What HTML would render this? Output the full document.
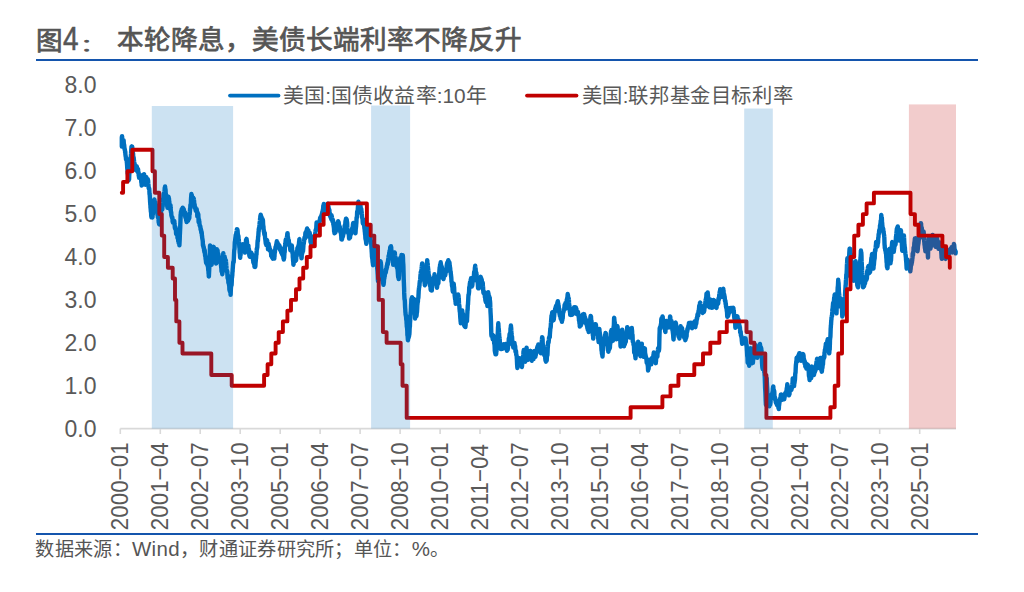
<!DOCTYPE html>
<html lang="zh-CN">
<head>
<meta charset="utf-8">
<title>图4： 本轮降息，美债长端利率不降反升</title>
<style>
html,body{margin:0;padding:0;background:#fff;}
body{width:1024px;height:592px;position:relative;overflow:hidden;font-family:"Liberation Sans",sans-serif;color:#595959;}
.title{position:absolute;left:36px;top:23px;height:34px;line-height:34px;font-size:26.6px;font-weight:500;color:#555;-webkit-text-stroke:0.75px #555;white-space:nowrap;}
.title .n{font-size:30px;font-weight:normal;-webkit-text-stroke:0.5px #555;display:inline-block;transform:scale(0.93,1.1);transform-origin:0 78%;}
.title .c{display:inline-block;transform:translateY(3.2px) scaleY(0.62);transform-origin:0 62%;}
.title .t2{position:absolute;left:80.5px;top:0;}
.rule{position:absolute;left:36px;width:942px;height:2px;background:#1455ad;}
.r1{top:59.4px;}
.r2{top:532.6px;}
.src{position:absolute;left:35.3px;top:537px;height:24px;line-height:24px;font-size:19.2px;letter-spacing:0.32px;color:#555;white-space:nowrap;}
.src .l{font-size:20.5px;}
svg{position:absolute;left:0;top:0;}
svg text{font-family:"Liberation Sans",sans-serif;fill:#595959;}
.yl text{font-size:23px;text-anchor:end;}
.xl text{font-size:22.4px;}
.lg text{font-size:20.8px;}
</style>
</head>
<body>
<div class="title"><span>图</span><span class="n">4</span><span class="c">：</span><span class="t2">本轮降息，美债长端利率不降反升</span></div>
<div class="rule r1"></div>
<svg width="1024" height="592" viewBox="0 0 1024 592">
  <g class="yl">
    <text x="96.5" y="93.4">8.0</text>
    <text x="96.5" y="136.3">7.0</text>
    <text x="96.5" y="179.2">6.0</text>
    <text x="96.5" y="222.1">5.0</text>
    <text x="96.5" y="265.0">4.0</text>
    <text x="96.5" y="307.9">3.0</text>
    <text x="96.5" y="350.8">2.0</text>
    <text x="96.5" y="393.7">1.0</text>
    <text x="96.5" y="436.6">0.0</text>
  </g>
  <path d="M120.3,428.6H956" stroke="#d9d9d9" stroke-width="1.6" fill="none"/>
  <path d="M120.3,428.6v5.5M160.3,428.6v5.5M200.2,428.6v5.5M240.2,428.6v5.5M280.2,428.6v5.5M320.1,428.6v5.5M360.1,428.6v5.5M400.1,428.6v5.5M440.1,428.6v5.5M480.0,428.6v5.5M520.0,428.6v5.5M560.0,428.6v5.5M599.9,428.6v5.5M639.9,428.6v5.5M679.9,428.6v5.5M719.8,428.6v5.5M759.8,428.6v5.5M799.8,428.6v5.5M839.8,428.6v5.5M879.7,428.6v5.5M919.7,428.6v5.5" stroke="#d9d9d9" stroke-width="1.6" fill="none"/>
  <path d="M121.8,146.6 L121.8,145.4 L121.8,145.0 L121.8,144.7 L121.8,145.0 L121.8,144.4 L121.8,142.3 L121.8,141.3 L121.8,139.6 L121.8,138.9 L121.8,138.1 L121.8,137.6 L121.8,139.0 L121.9,137.3 L122.0,136.3 L122.1,136.3 L122.2,138.7 L122.3,140.8 L122.4,141.7 L122.5,142.1 L122.6,141.7 L122.7,141.7 L122.8,141.2 L122.9,142.1 L123.0,141.9 L123.1,141.6 L123.2,142.7 L123.4,141.0 L123.5,140.9 L123.6,140.2 L123.7,141.6 L123.8,143.1 L123.9,144.1 L124.0,144.8 L124.1,144.7 L124.2,145.2 L124.3,146.4 L124.4,148.0 L124.5,149.1 L124.6,148.1 L124.7,149.7 L124.8,149.9 L125.0,150.0 L125.1,152.2 L125.2,152.5 L125.3,151.6 L125.4,154.4 L125.5,155.1 L125.6,155.5 L125.7,156.8 L125.8,156.7 L125.9,157.4 L126.0,159.5 L126.1,159.0 L126.2,158.9 L126.3,158.6 L126.4,158.0 L126.6,158.7 L126.7,159.7 L126.8,162.2 L126.9,162.4 L127.0,164.0 L127.1,165.3 L127.2,167.4 L127.3,168.9 L127.4,169.9 L127.5,168.9 L127.6,171.7 L127.7,173.6 L127.8,173.5 L127.9,172.3 L128.0,172.3 L128.1,175.1 L128.3,178.2 L128.4,177.9 L128.5,178.9 L128.6,180.3 L128.7,179.4 L128.8,178.6 L128.9,179.0 L129.0,179.5 L129.1,179.2 L129.2,176.2 L129.3,174.4 L129.4,172.9 L129.5,171.3 L129.6,172.0 L129.7,169.3 L129.9,167.2 L130.0,165.7 L130.1,166.9 L130.2,166.2 L130.3,163.8 L130.4,164.5 L130.5,163.0 L130.6,160.3 L130.7,160.3 L130.8,157.0 L130.9,155.1 L131.0,154.0 L131.1,152.4 L131.2,150.5 L131.3,149.2 L131.5,146.8 L131.6,146.5 L131.7,147.2 L131.8,146.5 L131.9,147.0 L132.0,148.4 L132.1,147.7 L132.2,146.6 L132.3,147.7 L132.4,149.7 L132.5,150.5 L132.6,151.5 L132.7,152.6 L132.8,151.9 L132.9,154.0 L133.1,153.5 L133.2,155.9 L133.3,157.5 L133.4,157.5 L133.5,157.1 L133.6,157.2 L133.7,157.9 L133.8,158.9 L133.9,159.9 L134.0,160.4 L134.1,161.7 L134.2,162.5 L134.3,163.0 L134.4,164.2 L134.5,164.5 L134.7,165.0 L134.8,164.1 L134.9,165.2 L135.0,166.3 L135.1,167.1 L135.2,167.4 L135.3,166.7 L135.4,167.4 L135.5,167.3 L135.6,165.6 L135.7,168.9 L135.8,170.1 L135.9,169.7 L136.0,169.2 L136.1,168.9 L136.3,169.4 L136.4,168.6 L136.5,168.4 L136.6,169.1 L136.7,166.5 L136.8,166.5 L136.9,167.5 L137.0,167.8 L137.1,168.3 L137.2,168.5 L137.3,171.5 L137.4,171.6 L137.5,170.2 L137.6,171.7 L137.7,171.9 L137.8,171.0 L138.0,170.4 L138.1,169.3 L138.2,171.9 L138.3,172.6 L138.4,173.3 L138.5,173.0 L138.6,172.2 L138.7,175.7 L138.8,174.7 L138.9,176.6 L139.0,176.0 L139.1,177.9 L139.2,177.7 L139.3,176.6 L139.4,177.2 L139.6,177.3 L139.7,176.9 L139.8,177.3 L139.9,178.0 L140.0,176.8 L140.1,176.5 L140.2,177.7 L140.3,175.2 L140.4,177.4 L140.5,177.0 L140.6,178.0 L140.7,178.4 L140.8,178.2 L140.9,178.5 L141.0,178.4 L141.2,180.6 L141.3,182.5 L141.4,181.8 L141.5,183.0 L141.6,184.1 L141.7,185.5 L141.8,183.7 L141.9,182.9 L142.0,181.4 L142.1,182.7 L142.2,182.9 L142.3,184.3 L142.4,183.2 L142.5,180.5 L142.6,180.8 L142.8,178.2 L142.9,176.5 L143.0,176.2 L143.1,177.7 L143.2,175.2 L143.3,174.6 L143.4,175.8 L143.5,175.7 L143.6,175.7 L143.7,174.6 L143.8,176.5 L143.9,175.8 L144.0,174.8 L144.1,174.2 L144.2,175.4 L144.4,177.1 L144.5,176.7 L144.6,177.4 L144.7,178.1 L144.8,177.3 L144.9,178.5 L145.0,181.7 L145.1,182.5 L145.2,184.7 L145.3,183.8 L145.4,183.6 L145.5,184.5 L145.6,184.1 L145.7,182.9 L145.8,182.6 L145.9,181.0 L146.1,181.2 L146.2,180.1 L146.3,178.7 L146.4,177.3 L146.5,178.6 L146.6,178.0 L146.7,180.4 L146.8,181.6 L146.9,183.4 L147.0,181.8 L147.1,182.8 L147.2,182.3 L147.3,182.1 L147.4,181.7 L147.5,181.9 L147.7,181.2 L147.8,179.1 L147.9,179.9 L148.0,180.2 L148.1,180.1 L148.2,181.3 L148.3,183.7 L148.4,185.0 L148.5,184.5 L148.6,187.1 L148.7,188.2 L148.8,187.6 L148.9,187.4 L149.0,188.3 L149.1,188.2 L149.3,189.0 L149.4,191.1 L149.5,193.5 L149.6,194.6 L149.7,194.3 L149.8,196.0 L149.9,197.9 L150.0,199.6 L150.1,202.0 L150.2,202.7 L150.3,204.6 L150.4,204.8 L150.5,208.0 L150.6,208.1 L150.7,209.3 L150.9,212.0 L151.0,211.5 L151.1,212.4 L151.2,215.4 L151.3,216.7 L151.4,216.7 L151.5,217.4 L151.6,216.4 L151.7,215.7 L151.8,215.2 L151.9,215.2 L152.0,214.3 L152.1,214.2 L152.2,214.5 L152.3,217.6 L152.5,217.0 L152.6,214.8 L152.7,214.5 L152.8,214.3 L152.9,211.4 L153.0,212.8 L153.1,211.4 L153.2,208.0 L153.3,208.6 L153.4,207.3 L153.5,204.7 L153.6,204.5 L153.7,203.5 L153.8,202.2 L153.9,202.8 L154.1,202.3 L154.2,201.4 L154.3,199.9 L154.4,199.4 L154.5,200.2 L154.6,201.9 L154.7,202.7 L154.8,202.1 L154.9,202.6 L155.0,204.0 L155.1,205.2 L155.2,202.6 L155.3,202.1 L155.4,202.3 L155.5,205.9 L155.6,205.7 L155.8,205.6 L155.9,204.4 L156.0,204.7 L156.1,205.6 L156.2,205.8 L156.3,208.7 L156.4,208.0 L156.5,208.2 L156.6,209.6 L156.7,208.7 L156.8,207.6 L156.9,210.2 L157.0,211.7 L157.1,212.0 L157.2,212.5 L157.4,213.6 L157.5,215.2 L157.6,213.4 L157.7,213.1 L157.8,215.3 L157.9,217.4 L158.0,216.0 L158.1,215.7 L158.2,214.6 L158.3,214.9 L158.4,217.0 L158.5,217.7 L158.6,220.9 L158.7,222.2 L158.8,222.7 L159.0,222.5 L159.1,223.8 L159.2,224.3 L159.3,224.3 L159.4,224.4 L159.5,223.7 L159.6,222.7 L159.7,222.3 L159.8,220.6 L159.9,219.9 L160.0,220.0 L160.1,219.8 L160.2,218.8 L160.3,218.0 L160.4,216.8 L160.6,215.9 L160.7,214.7 L160.8,214.0 L160.9,214.4 L161.0,212.8 L161.1,210.7 L161.2,209.4 L161.3,208.8 L161.4,207.5 L161.5,207.9 L161.6,209.4 L161.7,208.5 L161.8,208.7 L161.9,207.0 L162.0,207.5 L162.2,209.5 L162.3,209.4 L162.4,206.4 L162.5,205.9 L162.6,206.5 L162.7,206.2 L162.8,204.6 L162.9,203.1 L163.0,202.2 L163.1,199.9 L163.2,198.8 L163.3,198.5 L163.4,197.5 L163.5,195.5 L163.6,194.5 L163.8,193.5 L163.9,194.8 L164.0,194.9 L164.1,193.9 L164.2,194.1 L164.3,192.7 L164.4,192.0 L164.5,191.0 L164.6,191.2 L164.7,188.4 L164.8,187.4 L164.9,188.0 L165.0,188.1 L165.1,186.5 L165.2,188.5 L165.3,188.9 L165.5,189.3 L165.6,190.7 L165.7,193.3 L165.8,194.2 L165.9,194.8 L166.0,194.6 L166.1,194.9 L166.2,196.1 L166.3,196.3 L166.4,196.9 L166.5,197.9 L166.6,199.0 L166.7,200.3 L166.8,200.5 L166.9,202.7 L167.1,204.2 L167.2,204.8 L167.3,207.0 L167.4,206.6 L167.5,207.8 L167.6,207.3 L167.7,205.4 L167.8,203.7 L167.9,202.8 L168.0,202.2 L168.1,202.8 L168.2,199.7 L168.3,198.4 L168.4,196.6 L168.5,197.1 L168.7,197.1 L168.8,199.7 L168.9,199.1 L169.0,198.6 L169.1,201.2 L169.2,201.6 L169.3,201.2 L169.4,203.6 L169.5,205.8 L169.6,206.9 L169.7,207.4 L169.8,208.8 L169.9,208.5 L170.0,208.1 L170.1,207.5 L170.3,206.9 L170.4,205.7 L170.5,205.2 L170.6,207.5 L170.7,208.6 L170.8,210.3 L170.9,211.8 L171.0,212.0 L171.1,212.3 L171.2,212.0 L171.3,214.2 L171.4,215.7 L171.5,215.7 L171.6,216.1 L171.7,216.6 L171.9,216.8 L172.0,217.8 L172.1,217.2 L172.2,217.2 L172.3,217.3 L172.4,218.1 L172.5,218.3 L172.6,221.3 L172.7,221.9 L172.8,221.4 L172.9,222.6 L173.0,221.8 L173.1,221.3 L173.2,222.5 L173.3,222.4 L173.4,222.4 L173.6,221.6 L173.7,220.8 L173.8,220.8 L173.9,221.8 L174.0,221.8 L174.1,221.9 L174.2,221.1 L174.3,220.9 L174.4,222.0 L174.5,224.0 L174.6,224.8 L174.7,225.9 L174.8,227.4 L174.9,227.7 L175.0,228.4 L175.2,228.5 L175.3,228.3 L175.4,229.2 L175.5,227.1 L175.6,228.4 L175.7,228.0 L175.8,228.8 L175.9,228.6 L176.0,232.2 L176.1,233.7 L176.2,233.9 L176.3,233.7 L176.4,231.7 L176.5,232.2 L176.6,231.7 L176.8,231.9 L176.9,231.9 L177.0,232.5 L177.1,233.8 L177.2,234.3 L177.3,236.4 L177.4,235.9 L177.5,237.8 L177.6,238.2 L177.7,236.6 L177.8,237.8 L177.9,238.7 L178.0,238.2 L178.1,239.2 L178.2,240.9 L178.4,241.3 L178.5,241.4 L178.6,241.4 L178.7,243.1 L178.8,241.8 L178.9,240.9 L179.0,242.1 L179.1,242.8 L179.2,244.2 L179.3,243.6 L179.4,245.3 L179.5,243.1 L179.6,241.3 L179.7,239.6 L179.8,236.2 L180.0,232.2 L180.1,229.9 L180.2,228.2 L180.3,224.8 L180.4,222.4 L180.5,219.6 L180.6,215.5 L180.7,214.1 L180.8,214.6 L180.9,212.0 L181.0,212.1 L181.1,211.2 L181.2,212.0 L181.3,211.8 L181.4,213.4 L181.6,210.9 L181.7,209.1 L181.8,210.3 L181.9,211.5 L182.0,212.6 L182.1,210.3 L182.2,210.1 L182.3,209.4 L182.4,209.0 L182.5,208.3 L182.6,208.7 L182.7,207.7 L182.8,208.5 L182.9,208.7 L183.0,208.4 L183.1,208.2 L183.3,208.8 L183.4,210.1 L183.5,210.1 L183.6,210.9 L183.7,209.5 L183.8,209.2 L183.9,210.0 L184.0,211.1 L184.1,212.4 L184.2,213.8 L184.3,214.5 L184.4,214.4 L184.5,214.2 L184.6,214.0 L184.7,212.4 L184.9,214.0 L185.0,214.7 L185.1,212.4 L185.2,215.6 L185.3,216.9 L185.4,217.3 L185.5,217.7 L185.6,217.4 L185.7,217.9 L185.8,217.7 L185.9,217.8 L186.0,217.2 L186.1,219.5 L186.2,220.4 L186.3,220.2 L186.5,221.2 L186.6,222.0 L186.7,220.9 L186.8,221.4 L186.9,220.4 L187.0,219.5 L187.1,219.2 L187.2,218.8 L187.3,219.0 L187.4,220.7 L187.5,220.6 L187.6,220.0 L187.7,220.6 L187.8,220.6 L187.9,219.8 L188.1,220.8 L188.2,220.0 L188.3,218.1 L188.4,219.1 L188.5,219.2 L188.6,219.5 L188.7,218.1 L188.8,218.2 L188.9,217.6 L189.0,218.9 L189.1,218.1 L189.2,217.2 L189.3,218.2 L189.4,215.4 L189.5,213.4 L189.7,214.4 L189.8,212.4 L189.9,211.5 L190.0,209.9 L190.1,208.4 L190.2,209.1 L190.3,208.0 L190.4,205.1 L190.5,204.8 L190.6,204.7 L190.7,204.9 L190.8,204.7 L190.9,202.7 L191.0,199.4 L191.1,197.7 L191.2,196.4 L191.4,194.0 L191.5,194.9 L191.6,195.9 L191.7,195.3 L191.8,194.8 L191.9,196.1 L192.0,197.3 L192.1,196.7 L192.2,196.3 L192.3,197.9 L192.4,198.2 L192.5,198.9 L192.6,198.5 L192.7,198.8 L192.8,199.1 L193.0,199.6 L193.1,198.7 L193.2,197.6 L193.3,198.6 L193.4,198.2 L193.5,199.6 L193.6,200.0 L193.7,199.6 L193.8,198.6 L193.9,199.8 L194.0,200.5 L194.1,200.9 L194.2,203.1 L194.3,203.4 L194.4,204.4 L194.6,204.2 L194.7,205.7 L194.8,208.0 L194.9,207.7 L195.0,207.4 L195.1,208.0 L195.2,207.0 L195.3,207.5 L195.4,208.3 L195.5,207.9 L195.6,209.8 L195.7,210.5 L195.8,210.6 L195.9,209.7 L196.0,210.2 L196.2,210.1 L196.3,211.2 L196.4,211.1 L196.5,209.7 L196.6,211.1 L196.7,209.1 L196.8,210.6 L196.9,211.3 L197.0,211.8 L197.1,211.4 L197.2,213.5 L197.3,216.3 L197.4,215.9 L197.5,215.3 L197.6,215.1 L197.8,212.9 L197.9,213.7 L198.0,214.4 L198.1,214.3 L198.2,214.9 L198.3,214.1 L198.4,216.6 L198.5,217.8 L198.6,222.3 L198.7,221.5 L198.8,222.2 L198.9,221.4 L199.0,219.5 L199.1,220.4 L199.2,221.4 L199.4,222.6 L199.5,224.1 L199.6,225.3 L199.7,224.9 L199.8,225.4 L199.9,225.8 L200.0,226.5 L200.1,226.0 L200.2,226.1 L200.3,227.0 L200.4,226.9 L200.5,227.8 L200.6,229.7 L200.7,228.6 L200.8,228.9 L200.9,230.6 L201.1,230.0 L201.2,230.4 L201.3,232.9 L201.4,231.6 L201.5,232.0 L201.6,231.8 L201.7,232.4 L201.8,233.4 L201.9,235.9 L202.0,235.6 L202.1,236.5 L202.2,237.8 L202.3,238.2 L202.4,239.1 L202.5,239.3 L202.7,240.7 L202.8,241.7 L202.9,244.8 L203.0,245.8 L203.1,245.6 L203.2,244.8 L203.3,246.1 L203.4,247.1 L203.5,246.2 L203.6,247.7 L203.7,247.9 L203.8,247.1 L203.9,248.4 L204.0,248.4 L204.1,250.5 L204.3,251.1 L204.4,251.9 L204.5,252.5 L204.6,252.0 L204.7,250.2 L204.8,252.1 L204.9,253.7 L205.0,253.9 L205.1,255.8 L205.2,255.9 L205.3,255.9 L205.4,256.9 L205.5,256.9 L205.6,259.2 L205.7,258.8 L205.9,260.9 L206.0,261.9 L206.1,262.6 L206.2,263.1 L206.3,262.3 L206.4,262.5 L206.5,263.2 L206.6,262.9 L206.7,261.6 L206.8,262.3 L206.9,262.6 L207.0,262.0 L207.1,262.7 L207.2,265.0 L207.3,263.0 L207.5,261.6 L207.6,265.1 L207.7,266.0 L207.8,266.4 L207.9,266.2 L208.0,266.4 L208.1,267.7 L208.2,269.8 L208.3,270.3 L208.4,269.8 L208.5,271.8 L208.6,273.5 L208.7,273.9 L208.8,276.4 L208.9,276.5 L209.0,273.8 L209.2,270.0 L209.3,267.7 L209.4,265.5 L209.5,262.6 L209.6,259.4 L209.7,256.9 L209.8,253.6 L209.9,249.6 L210.0,246.1 L210.1,245.4 L210.2,247.7 L210.3,249.4 L210.4,253.2 L210.5,251.8 L210.6,253.7 L210.8,254.7 L210.9,255.1 L211.0,257.6 L211.1,258.0 L211.2,259.0 L211.3,261.9 L211.4,262.2 L211.5,261.8 L211.6,264.8 L211.7,264.2 L211.8,262.9 L211.9,261.4 L212.0,260.0 L212.1,257.8 L212.2,257.4 L212.4,255.8 L212.5,255.7 L212.6,254.2 L212.7,254.4 L212.8,253.8 L212.9,251.1 L213.0,250.0 L213.1,249.7 L213.2,250.3 L213.3,250.3 L213.4,249.1 L213.5,247.1 L213.6,246.9 L213.7,247.3 L213.8,248.3 L214.0,247.7 L214.1,249.3 L214.2,250.8 L214.3,250.7 L214.4,251.6 L214.5,252.9 L214.6,254.4 L214.7,255.4 L214.8,255.4 L214.9,255.8 L215.0,258.0 L215.1,258.1 L215.2,258.7 L215.3,260.5 L215.4,260.2 L215.6,261.2 L215.7,262.3 L215.8,262.1 L215.9,261.4 L216.0,263.2 L216.1,263.5 L216.2,263.5 L216.3,259.3 L216.4,258.6 L216.5,255.9 L216.6,255.3 L216.7,253.0 L216.8,249.3 L216.9,251.1 L217.0,250.5 L217.2,250.3 L217.3,250.9 L217.4,252.1 L217.5,250.1 L217.6,250.7 L217.7,253.1 L217.8,252.5 L217.9,254.9 L218.0,253.8 L218.1,254.8 L218.2,254.9 L218.3,253.9 L218.4,254.4 L218.5,256.4 L218.6,258.5 L218.7,257.2 L218.9,256.7 L219.0,258.0 L219.1,257.3 L219.2,257.2 L219.3,257.0 L219.4,260.0 L219.5,260.5 L219.6,259.7 L219.7,259.2 L219.8,258.8 L219.9,262.0 L220.0,262.0 L220.1,261.7 L220.2,259.5 L220.3,261.5 L220.5,262.7 L220.6,263.3 L220.7,263.1 L220.8,264.4 L220.9,263.9 L221.0,265.6 L221.1,266.1 L221.2,267.4 L221.3,267.9 L221.4,269.3 L221.5,271.5 L221.6,270.6 L221.7,270.8 L221.8,272.0 L221.9,272.3 L222.1,271.8 L222.2,273.5 L222.3,274.2 L222.4,273.4 L222.5,270.5 L222.6,268.6 L222.7,268.5 L222.8,264.5 L222.9,261.7 L223.0,259.3 L223.1,257.3 L223.2,254.6 L223.3,253.2 L223.4,254.5 L223.5,255.4 L223.7,256.1 L223.8,256.7 L223.9,257.8 L224.0,256.9 L224.1,258.3 L224.2,257.4 L224.3,258.5 L224.4,257.9 L224.5,256.5 L224.6,256.6 L224.7,257.7 L224.8,257.8 L224.9,257.9 L225.0,260.0 L225.1,260.7 L225.3,260.4 L225.4,260.9 L225.5,260.9 L225.6,260.6 L225.7,260.5 L225.8,260.3 L225.9,260.7 L226.0,262.0 L226.1,263.0 L226.2,264.2 L226.3,265.4 L226.4,266.3 L226.5,268.9 L226.6,269.8 L226.7,270.2 L226.9,271.8 L227.0,272.2 L227.1,272.1 L227.2,272.8 L227.3,271.2 L227.4,274.9 L227.5,275.6 L227.6,278.1 L227.7,277.3 L227.8,274.9 L227.9,278.6 L228.0,279.0 L228.1,279.0 L228.2,279.9 L228.3,279.9 L228.4,283.0 L228.6,282.4 L228.7,282.5 L228.8,283.0 L228.9,284.3 L229.0,284.1 L229.1,285.3 L229.2,285.6 L229.3,286.8 L229.4,289.8 L229.5,290.0 L229.6,290.0 L229.7,289.6 L229.8,291.1 L229.9,291.5 L230.0,291.3 L230.2,291.7 L230.3,291.0 L230.4,289.8 L230.5,291.9 L230.6,294.9 L230.7,293.1 L230.8,290.3 L230.9,288.4 L231.0,286.7 L231.1,286.6 L231.2,286.5 L231.3,284.5 L231.4,284.5 L231.5,285.3 L231.6,284.9 L231.8,280.6 L231.9,277.5 L232.0,277.4 L232.1,277.2 L232.2,275.8 L232.3,275.5 L232.4,272.8 L232.5,271.9 L232.6,271.9 L232.7,269.0 L232.8,268.3 L232.9,266.6 L233.0,265.2 L233.1,264.1 L233.2,262.3 L233.4,261.6 L233.5,262.0 L233.6,262.5 L233.7,261.7 L233.8,260.2 L233.9,258.0 L234.0,255.7 L234.1,253.1 L234.2,251.1 L234.3,250.2 L234.4,249.1 L234.5,249.4 L234.6,247.4 L234.7,244.7 L234.8,242.2 L235.0,241.3 L235.1,240.9 L235.2,239.3 L235.3,238.9 L235.4,237.7 L235.5,236.9 L235.6,236.5 L235.7,234.9 L235.8,235.6 L235.9,235.9 L236.0,236.5 L236.1,237.0 L236.2,234.8 L236.3,232.8 L236.4,232.8 L236.5,232.2 L236.7,231.0 L236.8,230.3 L236.9,229.3 L237.0,231.0 L237.1,231.7 L237.2,231.1 L237.3,229.5 L237.4,229.5 L237.5,230.5 L237.6,230.7 L237.7,232.4 L237.8,234.5 L237.9,233.8 L238.0,235.8 L238.1,236.9 L238.3,235.7 L238.4,235.9 L238.5,237.2 L238.6,239.5 L238.7,240.6 L238.8,240.3 L238.9,241.3 L239.0,241.7 L239.1,243.4 L239.2,244.6 L239.3,246.6 L239.4,247.8 L239.5,248.0 L239.6,251.3 L239.7,252.8 L239.9,253.9 L240.0,255.9 L240.1,257.4 L240.2,257.8 L240.3,255.6 L240.4,254.6 L240.5,253.8 L240.6,255.1 L240.7,252.3 L240.8,251.8 L240.9,251.4 L241.0,252.0 L241.1,251.3 L241.2,251.6 L241.3,250.6 L241.5,249.1 L241.6,248.2 L241.7,247.0 L241.8,247.1 L241.9,244.6 L242.0,244.6 L242.1,245.7 L242.2,244.7 L242.3,244.4 L242.4,245.3 L242.5,245.6 L242.6,245.1 L242.7,246.4 L242.8,246.4 L242.9,244.8 L243.1,244.3 L243.2,244.8 L243.3,245.0 L243.4,245.5 L243.5,245.9 L243.6,245.4 L243.7,246.0 L243.8,249.0 L243.9,249.0 L244.0,250.0 L244.1,249.3 L244.2,250.1 L244.3,250.0 L244.4,247.8 L244.5,249.4 L244.7,249.9 L244.8,250.5 L244.9,252.0 L245.0,252.6 L245.1,250.5 L245.2,249.8 L245.3,250.4 L245.4,250.4 L245.5,248.0 L245.6,247.4 L245.7,246.3 L245.8,244.6 L245.9,242.2 L246.0,240.3 L246.1,239.7 L246.2,240.3 L246.4,240.7 L246.5,239.4 L246.6,238.8 L246.7,240.2 L246.8,240.6 L246.9,241.2 L247.0,242.0 L247.1,243.3 L247.2,245.4 L247.3,246.4 L247.4,248.3 L247.5,247.0 L247.6,246.7 L247.7,248.4 L247.8,247.1 L248.0,246.6 L248.1,249.3 L248.2,247.6 L248.3,247.3 L248.4,245.7 L248.5,248.0 L248.6,248.2 L248.7,248.4 L248.8,249.0 L248.9,249.5 L249.0,249.1 L249.1,251.5 L249.2,253.3 L249.3,255.1 L249.4,255.7 L249.6,256.4 L249.7,255.9 L249.8,255.7 L249.9,255.9 L250.0,256.4 L250.1,256.7 L250.2,255.3 L250.3,254.4 L250.4,254.4 L250.5,254.8 L250.6,253.2 L250.7,254.1 L250.8,253.5 L250.9,252.5 L251.0,253.1 L251.2,252.5 L251.3,254.1 L251.4,253.1 L251.5,253.2 L251.6,255.2 L251.7,254.4 L251.8,255.4 L251.9,254.0 L252.0,254.8 L252.1,255.0 L252.2,254.7 L252.3,255.1 L252.4,254.8 L252.5,255.4 L252.6,255.3 L252.8,256.0 L252.9,256.5 L253.0,260.2 L253.1,259.3 L253.2,259.8 L253.3,262.2 L253.4,262.4 L253.5,262.3 L253.6,261.6 L253.7,263.5 L253.8,262.4 L253.9,263.4 L254.0,261.6 L254.1,262.9 L254.2,263.2 L254.3,264.8 L254.5,266.9 L254.6,266.5 L254.7,266.5 L254.8,265.9 L254.9,265.7 L255.0,265.8 L255.1,267.0 L255.2,266.7 L255.3,266.3 L255.4,265.9 L255.5,263.9 L255.6,262.4 L255.7,261.6 L255.8,260.2 L255.9,259.3 L256.1,257.9 L256.2,256.0 L256.3,254.0 L256.4,253.9 L256.5,254.6 L256.6,251.8 L256.7,250.7 L256.8,248.6 L256.9,249.5 L257.0,248.8 L257.1,247.6 L257.2,248.1 L257.3,247.3 L257.4,245.2 L257.5,242.8 L257.7,240.2 L257.8,240.4 L257.9,241.0 L258.0,239.3 L258.1,237.2 L258.2,236.1 L258.3,236.6 L258.4,234.7 L258.5,232.9 L258.6,231.4 L258.7,231.2 L258.8,230.0 L258.9,228.2 L259.0,228.1 L259.1,229.2 L259.3,227.6 L259.4,226.0 L259.5,224.9 L259.6,222.9 L259.7,222.7 L259.8,221.8 L259.9,221.1 L260.0,220.2 L260.1,218.5 L260.2,219.0 L260.3,217.0 L260.4,215.9 L260.5,215.7 L260.6,215.8 L260.7,214.6 L260.9,215.7 L261.0,216.5 L261.1,218.2 L261.2,218.0 L261.3,216.8 L261.4,216.8 L261.5,216.8 L261.6,217.5 L261.7,217.7 L261.8,219.5 L261.9,218.5 L262.0,219.1 L262.1,220.4 L262.2,221.1 L262.3,221.7 L262.5,220.5 L262.6,219.2 L262.7,220.7 L262.8,220.2 L262.9,220.0 L263.0,221.5 L263.1,223.8 L263.2,225.1 L263.3,226.1 L263.4,226.1 L263.5,226.9 L263.6,229.5 L263.7,229.4 L263.8,231.3 L263.9,230.4 L264.0,232.0 L264.2,232.9 L264.3,234.0 L264.4,234.6 L264.5,233.3 L264.6,232.8 L264.7,232.8 L264.8,233.1 L264.9,235.6 L265.0,236.6 L265.1,237.7 L265.2,239.1 L265.3,238.8 L265.4,240.0 L265.5,240.7 L265.6,241.8 L265.8,243.8 L265.9,242.7 L266.0,241.0 L266.1,240.9 L266.2,242.1 L266.3,245.1 L266.4,244.5 L266.5,242.9 L266.6,242.7 L266.7,241.8 L266.8,240.6 L266.9,240.0 L267.0,241.2 L267.1,240.7 L267.2,240.6 L267.4,243.1 L267.5,244.0 L267.6,245.9 L267.7,246.2 L267.8,245.7 L267.9,247.1 L268.0,249.4 L268.1,247.8 L268.2,247.5 L268.3,246.2 L268.4,248.1 L268.5,247.2 L268.6,245.4 L268.7,244.0 L268.8,245.3 L269.0,245.9 L269.1,246.9 L269.2,246.6 L269.3,246.4 L269.4,247.2 L269.5,249.6 L269.6,249.3 L269.7,250.5 L269.8,250.3 L269.9,250.6 L270.0,249.5 L270.1,249.1 L270.2,250.6 L270.3,251.0 L270.4,249.9 L270.6,251.4 L270.7,251.8 L270.8,251.3 L270.9,250.9 L271.0,251.4 L271.1,253.9 L271.2,255.9 L271.3,256.1 L271.4,256.0 L271.5,253.5 L271.6,255.0 L271.7,254.1 L271.8,253.8 L271.9,256.2 L272.0,257.2 L272.2,257.1 L272.3,257.7 L272.4,257.8 L272.5,257.3 L272.6,258.2 L272.7,257.6 L272.8,258.2 L272.9,258.7 L273.0,258.0 L273.1,258.5 L273.2,258.1 L273.3,256.3 L273.4,256.5 L273.5,256.9 L273.6,256.3 L273.7,256.9 L273.9,255.9 L274.0,257.6 L274.1,257.0 L274.2,257.7 L274.3,258.6 L274.4,256.1 L274.5,256.6 L274.6,254.2 L274.7,253.3 L274.8,251.5 L274.9,252.6 L275.0,251.0 L275.1,249.4 L275.2,249.6 L275.3,249.7 L275.5,246.9 L275.6,246.9 L275.7,247.5 L275.8,248.1 L275.9,247.4 L276.0,246.8 L276.1,246.4 L276.2,244.5 L276.3,245.0 L276.4,244.5 L276.5,243.0 L276.6,244.3 L276.7,243.2 L276.8,241.3 L276.9,243.1 L277.1,244.2 L277.2,245.1 L277.3,246.6 L277.4,245.3 L277.5,246.7 L277.6,245.2 L277.7,242.9 L277.8,244.2 L277.9,244.1 L278.0,246.0 L278.1,244.8 L278.2,245.4 L278.3,245.4 L278.4,245.1 L278.5,244.4 L278.7,244.8 L278.8,244.7 L278.9,245.3 L279.0,245.2 L279.1,246.4 L279.2,246.2 L279.3,248.2 L279.4,248.3 L279.5,245.9 L279.6,245.8 L279.7,247.3 L279.8,246.9 L279.9,247.9 L280.0,249.5 L280.1,249.9 L280.3,248.7 L280.4,248.1 L280.5,248.2 L280.6,249.1 L280.7,250.1 L280.8,248.4 L280.9,248.1 L281.0,249.2 L281.1,251.4 L281.2,252.5 L281.3,249.4 L281.4,250.6 L281.5,250.8 L281.6,250.7 L281.7,251.1 L281.8,251.6 L282.0,253.3 L282.1,254.4 L282.2,252.5 L282.3,253.6 L282.4,252.8 L282.5,255.0 L282.6,255.3 L282.7,255.1 L282.8,254.2 L282.9,255.8 L283.0,255.4 L283.1,255.3 L283.2,256.5 L283.3,256.3 L283.4,257.7 L283.6,258.7 L283.7,257.7 L283.8,259.6 L283.9,258.3 L284.0,258.1 L284.1,258.3 L284.2,257.2 L284.3,254.8 L284.4,254.0 L284.5,251.4 L284.6,251.8 L284.7,252.1 L284.8,249.1 L284.9,247.8 L285.0,245.9 L285.2,246.2 L285.3,244.5 L285.4,243.6 L285.5,242.2 L285.6,241.7 L285.7,239.8 L285.8,240.1 L285.9,240.6 L286.0,241.4 L286.1,239.2 L286.2,239.2 L286.3,239.4 L286.4,239.4 L286.5,238.7 L286.6,238.9 L286.8,237.9 L286.9,237.3 L287.0,236.6 L287.1,236.3 L287.2,234.9 L287.3,234.1 L287.4,233.3 L287.5,233.3 L287.6,233.3 L287.7,236.1 L287.8,236.8 L287.9,237.8 L288.0,237.0 L288.1,239.0 L288.2,239.9 L288.4,240.3 L288.5,240.8 L288.6,239.9 L288.7,240.7 L288.8,240.1 L288.9,242.2 L289.0,244.5 L289.1,243.3 L289.2,243.2 L289.3,243.2 L289.4,243.7 L289.5,243.9 L289.6,245.9 L289.7,245.4 L289.8,246.7 L290.0,245.8 L290.1,246.1 L290.2,248.6 L290.3,250.0 L290.4,248.6 L290.5,248.9 L290.6,249.4 L290.7,249.2 L290.8,249.8 L290.9,250.5 L291.0,250.4 L291.1,250.3 L291.2,248.8 L291.3,249.2 L291.4,247.6 L291.5,246.3 L291.7,245.4 L291.8,245.4 L291.9,246.5 L292.0,247.4 L292.1,248.5 L292.2,250.5 L292.3,251.6 L292.4,253.2 L292.5,252.2 L292.6,252.7 L292.7,254.2 L292.8,257.2 L292.9,257.8 L293.0,258.8 L293.1,260.5 L293.3,262.1 L293.4,264.7 L293.5,264.0 L293.6,264.1 L293.7,261.0 L293.8,261.1 L293.9,261.3 L294.0,259.7 L294.1,259.8 L294.2,259.9 L294.3,260.5 L294.4,261.3 L294.5,259.7 L294.6,258.9 L294.7,257.4 L294.9,258.4 L295.0,258.8 L295.1,260.2 L295.2,259.3 L295.3,261.1 L295.4,260.5 L295.5,259.5 L295.6,258.3 L295.7,259.8 L295.8,258.6 L295.9,259.1 L296.0,259.4 L296.1,260.1 L296.2,258.0 L296.3,255.6 L296.5,255.8 L296.6,256.1 L296.7,255.7 L296.8,252.3 L296.9,250.9 L297.0,251.2 L297.1,252.8 L297.2,252.7 L297.3,250.6 L297.4,248.0 L297.5,247.9 L297.6,248.2 L297.7,248.2 L297.8,249.5 L297.9,247.7 L298.1,248.3 L298.2,246.3 L298.3,247.6 L298.4,248.1 L298.5,246.8 L298.6,246.7 L298.7,245.0 L298.8,244.2 L298.9,244.7 L299.0,243.2 L299.1,241.6 L299.2,243.1 L299.3,240.3 L299.4,239.3 L299.5,239.2 L299.6,242.3 L299.8,243.8 L299.9,244.8 L300.0,244.2 L300.1,246.6 L300.2,248.1 L300.3,250.7 L300.4,251.2 L300.5,251.0 L300.6,253.2 L300.7,254.0 L300.8,253.7 L300.9,252.4 L301.0,252.4 L301.1,253.6 L301.2,255.6 L301.4,257.2 L301.5,258.4 L301.6,257.8 L301.7,257.0 L301.8,254.3 L301.9,253.5 L302.0,254.2 L302.1,251.9 L302.2,250.4 L302.3,250.1 L302.4,250.6 L302.5,252.1 L302.6,252.4 L302.7,250.5 L302.8,250.6 L303.0,251.2 L303.1,250.0 L303.2,248.8 L303.3,247.4 L303.4,246.0 L303.5,243.9 L303.6,244.5 L303.7,243.0 L303.8,243.7 L303.9,242.4 L304.0,241.8 L304.1,241.1 L304.2,239.8 L304.3,239.6 L304.4,238.2 L304.6,237.2 L304.7,237.1 L304.8,237.7 L304.9,238.3 L305.0,238.5 L305.1,238.2 L305.2,237.7 L305.3,234.0 L305.4,233.3 L305.5,232.6 L305.6,233.6 L305.7,234.2 L305.8,234.2 L305.9,233.6 L306.0,234.3 L306.2,232.0 L306.3,232.4 L306.4,230.8 L306.5,233.1 L306.6,232.4 L306.7,231.5 L306.8,230.7 L306.9,229.6 L307.0,228.9 L307.1,228.5 L307.2,230.9 L307.3,231.7 L307.4,234.2 L307.5,233.1 L307.6,232.6 L307.8,232.8 L307.9,233.7 L308.0,234.2 L308.1,232.0 L308.2,230.4 L308.3,231.0 L308.4,230.1 L308.5,232.5 L308.6,234.9 L308.7,235.5 L308.8,236.4 L308.9,236.8 L309.0,236.5 L309.1,233.2 L309.2,234.4 L309.3,234.7 L309.5,234.8 L309.6,235.1 L309.7,234.4 L309.8,233.0 L309.9,235.0 L310.0,235.3 L310.1,236.0 L310.2,236.0 L310.3,238.0 L310.4,240.0 L310.5,242.2 L310.6,241.2 L310.7,240.6 L310.8,240.4 L310.9,242.8 L311.1,242.7 L311.2,243.1 L311.3,244.2 L311.4,244.6 L311.5,243.2 L311.6,242.2 L311.7,242.1 L311.8,241.4 L311.9,242.1 L312.0,242.0 L312.1,241.9 L312.2,241.3 L312.3,241.4 L312.4,241.7 L312.5,241.9 L312.7,242.7 L312.8,240.3 L312.9,240.1 L313.0,240.1 L313.1,238.1 L313.2,237.4 L313.3,240.0 L313.4,239.8 L313.5,239.5 L313.6,237.8 L313.7,236.7 L313.8,236.2 L313.9,237.9 L314.0,238.8 L314.1,238.3 L314.3,237.6 L314.4,238.5 L314.5,238.5 L314.6,238.5 L314.7,237.9 L314.8,237.0 L314.9,236.8 L315.0,237.6 L315.1,235.5 L315.2,233.4 L315.3,233.3 L315.4,231.9 L315.5,231.3 L315.6,230.5 L315.7,229.9 L315.9,230.7 L316.0,229.8 L316.1,228.5 L316.2,229.6 L316.3,227.5 L316.4,225.4 L316.5,224.0 L316.6,222.5 L316.7,222.6 L316.8,223.8 L316.9,225.0 L317.0,226.2 L317.1,226.2 L317.2,226.3 L317.3,225.6 L317.4,227.8 L317.6,225.0 L317.7,222.6 L317.8,223.0 L317.9,222.6 L318.0,222.4 L318.1,222.4 L318.2,222.9 L318.3,223.1 L318.4,224.1 L318.5,223.7 L318.6,223.6 L318.7,223.1 L318.8,223.9 L318.9,223.5 L319.0,223.2 L319.2,222.2 L319.3,223.2 L319.4,222.4 L319.5,221.0 L319.6,220.3 L319.7,220.6 L319.8,221.0 L319.9,221.0 L320.0,219.9 L320.1,217.9 L320.2,218.0 L320.3,218.5 L320.4,217.7 L320.5,217.2 L320.6,217.9 L320.8,218.2 L320.9,217.8 L321.0,216.4 L321.1,217.3 L321.2,217.7 L321.3,216.4 L321.4,217.0 L321.5,216.1 L321.6,214.9 L321.7,214.4 L321.8,214.8 L321.9,214.2 L322.0,213.9 L322.1,212.9 L322.2,213.2 L322.4,211.4 L322.5,212.7 L322.6,212.2 L322.7,211.5 L322.8,209.8 L322.9,210.0 L323.0,208.9 L323.1,209.1 L323.2,207.8 L323.3,205.6 L323.4,206.0 L323.5,205.3 L323.6,206.2 L323.7,204.8 L323.8,203.9 L324.0,204.7 L324.1,206.8 L324.2,207.0 L324.3,206.4 L324.4,206.0 L324.5,206.1 L324.6,209.1 L324.7,210.4 L324.8,209.4 L324.9,211.5 L325.0,210.8 L325.1,209.4 L325.2,209.6 L325.3,209.4 L325.4,210.9 L325.6,212.6 L325.7,212.4 L325.8,212.3 L325.9,211.9 L326.0,210.8 L326.1,210.6 L326.2,210.1 L326.3,209.2 L326.4,209.0 L326.5,206.7 L326.6,206.1 L326.7,206.0 L326.8,206.1 L326.9,206.6 L327.0,204.8 L327.1,204.6 L327.3,205.5 L327.4,205.7 L327.5,205.4 L327.6,205.3 L327.7,203.6 L327.8,204.4 L327.9,203.7 L328.0,204.0 L328.1,205.8 L328.2,206.0 L328.3,206.5 L328.4,206.3 L328.5,207.2 L328.6,207.3 L328.7,209.5 L328.9,210.8 L329.0,210.0 L329.1,209.1 L329.2,209.6 L329.3,210.7 L329.4,209.9 L329.5,212.7 L329.6,213.8 L329.7,213.2 L329.8,212.8 L329.9,214.1 L330.0,216.2 L330.1,214.4 L330.2,214.3 L330.3,215.5 L330.5,215.4 L330.6,214.5 L330.7,217.6 L330.8,216.2 L330.9,215.5 L331.0,218.0 L331.1,217.1 L331.2,219.1 L331.3,217.7 L331.4,217.3 L331.5,215.1 L331.6,216.3 L331.7,216.8 L331.8,216.1 L331.9,217.3 L332.1,218.5 L332.2,219.4 L332.3,219.8 L332.4,221.4 L332.5,221.0 L332.6,220.8 L332.7,221.1 L332.8,219.8 L332.9,220.9 L333.0,220.1 L333.1,221.5 L333.2,221.4 L333.3,224.3 L333.4,224.4 L333.5,225.1 L333.7,226.0 L333.8,227.0 L333.9,227.6 L334.0,228.6 L334.1,231.1 L334.2,231.5 L334.3,231.9 L334.4,232.3 L334.5,233.3 L334.6,233.1 L334.7,232.1 L334.8,232.5 L334.9,233.1 L335.0,231.7 L335.1,231.0 L335.3,230.6 L335.4,230.0 L335.5,231.2 L335.6,232.1 L335.7,230.7 L335.8,231.1 L335.9,230.9 L336.0,230.2 L336.1,229.4 L336.2,229.5 L336.3,228.0 L336.4,228.0 L336.5,226.9 L336.6,225.6 L336.7,224.8 L336.8,224.0 L337.0,225.2 L337.1,226.4 L337.2,226.5 L337.3,225.3 L337.4,223.2 L337.5,224.2 L337.6,223.4 L337.7,223.8 L337.8,224.0 L337.9,223.6 L338.0,222.1 L338.1,221.8 L338.2,221.1 L338.3,222.9 L338.4,222.4 L338.6,222.1 L338.7,222.9 L338.8,223.1 L338.9,224.6 L339.0,226.4 L339.1,227.3 L339.2,228.4 L339.3,225.6 L339.4,227.0 L339.5,226.0 L339.6,226.7 L339.7,227.3 L339.8,227.5 L339.9,229.3 L340.0,229.1 L340.2,229.6 L340.3,232.1 L340.4,232.1 L340.5,232.2 L340.6,232.4 L340.7,231.5 L340.8,233.0 L340.9,233.3 L341.0,233.4 L341.1,235.4 L341.2,234.9 L341.3,237.3 L341.4,239.3 L341.5,238.5 L341.6,239.1 L341.8,238.6 L341.9,239.6 L342.0,238.6 L342.1,239.0 L342.2,237.6 L342.3,238.4 L342.4,236.9 L342.5,236.3 L342.6,235.3 L342.7,234.6 L342.8,233.7 L342.9,234.4 L343.0,236.3 L343.1,235.0 L343.2,234.9 L343.4,234.2 L343.5,232.6 L343.6,233.7 L343.7,233.3 L343.8,232.7 L343.9,232.6 L344.0,231.0 L344.1,230.1 L344.2,230.1 L344.3,230.1 L344.4,228.2 L344.5,228.2 L344.6,226.7 L344.7,225.5 L344.8,227.0 L344.9,227.4 L345.1,226.4 L345.2,225.2 L345.3,223.6 L345.4,222.2 L345.5,220.8 L345.6,221.0 L345.7,220.9 L345.8,219.8 L345.9,220.0 L346.0,218.6 L346.1,220.2 L346.2,219.0 L346.3,218.9 L346.4,220.6 L346.5,219.4 L346.7,219.6 L346.8,220.3 L346.9,222.1 L347.0,223.1 L347.1,222.0 L347.2,223.6 L347.3,227.9 L347.4,228.9 L347.5,230.2 L347.6,230.2 L347.7,230.6 L347.8,231.7 L347.9,232.6 L348.0,231.4 L348.1,233.2 L348.3,231.2 L348.4,232.3 L348.5,234.0 L348.6,233.4 L348.7,233.3 L348.8,235.1 L348.9,234.8 L349.0,237.4 L349.1,238.5 L349.2,236.8 L349.3,236.9 L349.4,238.1 L349.5,237.1 L349.6,235.9 L349.7,235.9 L349.9,237.7 L350.0,237.8 L350.1,237.0 L350.2,235.9 L350.3,233.8 L350.4,233.9 L350.5,234.2 L350.6,233.9 L350.7,232.3 L350.8,233.1 L350.9,231.4 L351.0,234.2 L351.1,232.7 L351.2,232.9 L351.3,231.8 L351.5,230.6 L351.6,231.5 L351.7,231.1 L351.8,230.3 L351.9,229.1 L352.0,229.8 L352.1,230.3 L352.2,231.7 L352.3,228.0 L352.4,227.7 L352.5,227.5 L352.6,228.6 L352.7,226.9 L352.8,226.9 L352.9,224.8 L353.1,223.5 L353.2,223.3 L353.3,222.9 L353.4,224.6 L353.5,225.3 L353.6,226.1 L353.7,227.6 L353.8,227.6 L353.9,227.7 L354.0,226.2 L354.1,230.1 L354.2,230.6 L354.3,231.2 L354.4,231.4 L354.5,230.6 L354.6,230.0 L354.8,229.9 L354.9,230.4 L355.0,229.9 L355.1,229.6 L355.2,231.8 L355.3,231.9 L355.4,233.3 L355.5,233.2 L355.6,231.5 L355.7,229.9 L355.8,228.4 L355.9,228.0 L356.0,226.9 L356.1,226.5 L356.2,224.6 L356.4,222.6 L356.5,219.6 L356.6,217.4 L356.7,217.7 L356.8,217.4 L356.9,217.5 L357.0,216.0 L357.1,212.9 L357.2,211.5 L357.3,213.3 L357.4,213.6 L357.5,213.8 L357.6,211.8 L357.7,210.6 L357.8,209.1 L358.0,206.0 L358.1,206.1 L358.2,206.1 L358.3,202.9 L358.4,201.8 L358.5,202.6 L358.6,205.0 L358.7,206.5 L358.8,208.8 L358.9,208.0 L359.0,207.4 L359.1,206.0 L359.2,205.9 L359.3,206.6 L359.4,207.2 L359.6,204.8 L359.7,206.9 L359.8,206.5 L359.9,206.4 L360.0,205.7 L360.1,206.2 L360.2,205.7 L360.3,205.0 L360.4,205.4 L360.5,206.1 L360.6,206.5 L360.7,207.6 L360.8,208.5 L360.9,209.5 L361.0,209.9 L361.2,209.3 L361.3,208.9 L361.4,210.6 L361.5,211.0 L361.6,211.9 L361.7,212.2 L361.8,213.5 L361.9,214.4 L362.0,216.1 L362.1,218.0 L362.2,218.0 L362.3,217.7 L362.4,218.2 L362.5,219.1 L362.6,220.1 L362.7,221.9 L362.9,223.5 L363.0,222.2 L363.1,221.4 L363.2,221.5 L363.3,222.0 L363.4,219.8 L363.5,222.5 L363.6,221.2 L363.7,221.5 L363.8,220.0 L363.9,222.1 L364.0,223.4 L364.1,225.0 L364.2,225.9 L364.3,227.1 L364.5,228.9 L364.6,228.5 L364.7,230.3 L364.8,231.7 L364.9,231.9 L365.0,233.3 L365.1,234.6 L365.2,234.9 L365.3,236.1 L365.4,238.2 L365.5,238.8 L365.6,239.6 L365.7,238.4 L365.8,240.5 L365.9,240.2 L366.1,241.9 L366.2,243.0 L366.3,243.8 L366.4,242.7 L366.5,241.2 L366.6,238.8 L366.7,239.3 L366.8,237.5 L366.9,236.2 L367.0,235.3 L367.1,236.1 L367.2,234.9 L367.3,234.9 L367.4,234.3 L367.5,234.4 L367.7,233.3 L367.8,231.9 L367.9,230.6 L368.0,230.8 L368.1,229.7 L368.2,228.1 L368.3,229.3 L368.4,227.6 L368.5,229.0 L368.6,228.2 L368.7,227.3 L368.8,225.6 L368.9,225.3 L369.0,225.8 L369.1,227.3 L369.3,229.7 L369.4,229.7 L369.5,230.9 L369.6,232.6 L369.7,232.8 L369.8,234.5 L369.9,235.7 L370.0,236.9 L370.1,235.8 L370.2,235.2 L370.3,236.6 L370.4,239.4 L370.5,239.9 L370.6,240.7 L370.7,241.3 L370.9,241.7 L371.0,243.3 L371.1,243.5 L371.2,243.9 L371.3,245.1 L371.4,246.9 L371.5,248.7 L371.6,249.1 L371.7,251.6 L371.8,252.8 L371.9,254.6 L372.0,257.0 L372.1,257.1 L372.2,258.0 L372.3,258.8 L372.4,258.8 L372.6,261.5 L372.7,262.5 L372.8,263.0 L372.9,263.1 L373.0,265.2 L373.1,263.5 L373.2,262.5 L373.3,260.3 L373.4,258.6 L373.5,257.6 L373.6,255.0 L373.7,254.9 L373.8,255.2 L373.9,255.3 L374.0,255.8 L374.2,255.2 L374.3,256.5 L374.4,255.6 L374.5,254.1 L374.6,252.2 L374.7,251.9 L374.8,249.6 L374.9,249.8 L375.0,249.2 L375.1,250.5 L375.2,250.3 L375.3,250.0 L375.4,247.2 L375.5,245.8 L375.6,246.3 L375.8,247.2 L375.9,248.2 L376.0,250.0 L376.1,251.5 L376.2,253.4 L376.3,255.5 L376.4,258.8 L376.5,260.1 L376.6,259.9 L376.7,259.9 L376.8,261.9 L376.9,264.4 L377.0,266.2 L377.1,266.7 L377.2,268.0 L377.4,270.3 L377.5,271.5 L377.6,273.4 L377.7,274.5 L377.8,276.6 L377.9,279.7 L378.0,281.0 L378.1,280.3 L378.2,280.6 L378.3,279.6 L378.4,277.6 L378.5,277.2 L378.6,276.9 L378.7,273.8 L378.8,272.2 L379.0,270.6 L379.1,271.2 L379.2,268.8 L379.3,270.1 L379.4,269.9 L379.5,268.3 L379.6,266.1 L379.7,266.6 L379.8,266.5 L379.9,265.4 L380.0,266.6 L380.1,264.8 L380.2,263.2 L380.3,262.8 L380.4,261.3 L380.6,261.5 L380.7,262.4 L380.8,263.1 L380.9,262.8 L381.0,264.8 L381.1,266.0 L381.2,267.9 L381.3,268.0 L381.4,269.8 L381.5,270.6 L381.6,271.7 L381.7,272.9 L381.8,272.4 L381.9,274.0 L382.0,273.9 L382.1,274.7 L382.3,275.0 L382.4,276.9 L382.5,277.6 L382.6,278.5 L382.7,280.9 L382.8,282.1 L382.9,283.0 L383.0,282.9 L383.1,281.4 L383.2,282.1 L383.3,283.6 L383.4,284.9 L383.5,284.5 L383.6,284.4 L383.7,283.5 L383.9,282.1 L384.0,279.6 L384.1,278.9 L384.2,278.2 L384.3,278.7 L384.4,277.6 L384.5,275.9 L384.6,274.4 L384.7,276.5 L384.8,275.2 L384.9,273.3 L385.0,272.3 L385.1,273.8 L385.2,273.8 L385.3,272.7 L385.5,271.9 L385.6,272.4 L385.7,272.9 L385.8,271.2 L385.9,272.1 L386.0,269.9 L386.1,269.4 L386.2,268.6 L386.3,269.6 L386.4,269.5 L386.5,268.1 L386.6,269.0 L386.7,266.0 L386.8,267.0 L386.9,267.5 L387.1,266.5 L387.2,265.1 L387.3,263.6 L387.4,263.4 L387.5,263.0 L387.6,262.5 L387.7,262.4 L387.8,264.3 L387.9,262.1 L388.0,260.9 L388.1,259.9 L388.2,259.8 L388.3,258.7 L388.4,257.9 L388.5,257.2 L388.7,255.4 L388.8,256.6 L388.9,255.5 L389.0,255.9 L389.1,255.3 L389.2,252.8 L389.3,253.3 L389.4,252.7 L389.5,252.5 L389.6,250.7 L389.7,251.0 L389.8,252.0 L389.9,250.4 L390.0,249.9 L390.1,249.3 L390.2,247.3 L390.4,247.5 L390.5,247.1 L390.6,247.1 L390.7,247.2 L390.8,248.4 L390.9,247.9 L391.0,246.3 L391.1,247.9 L391.2,247.0 L391.3,250.4 L391.4,249.8 L391.5,251.2 L391.6,252.0 L391.7,253.2 L391.8,254.7 L392.0,256.8 L392.1,257.7 L392.2,256.8 L392.3,256.4 L392.4,257.7 L392.5,259.0 L392.6,260.5 L392.7,262.3 L392.8,260.9 L392.9,261.0 L393.0,261.7 L393.1,263.1 L393.2,264.9 L393.3,263.9 L393.4,261.7 L393.6,261.5 L393.7,259.0 L393.8,258.9 L393.9,256.7 L394.0,256.3 L394.1,255.2 L394.2,253.1 L394.3,252.9 L394.4,252.4 L394.5,254.0 L394.6,252.9 L394.7,252.4 L394.8,253.3 L394.9,253.8 L395.0,255.5 L395.2,256.4 L395.3,258.4 L395.4,258.7 L395.5,259.0 L395.6,258.1 L395.7,257.8 L395.8,257.8 L395.9,259.1 L396.0,260.2 L396.1,261.2 L396.2,261.6 L396.3,264.3 L396.4,263.8 L396.5,265.8 L396.6,266.6 L396.8,266.8 L396.9,267.5 L397.0,266.4 L397.1,267.4 L397.2,266.7 L397.3,266.7 L397.4,268.5 L397.5,269.3 L397.6,269.2 L397.7,270.9 L397.8,272.0 L397.9,273.8 L398.0,274.8 L398.1,276.3 L398.2,277.2 L398.4,277.1 L398.5,276.8 L398.6,278.0 L398.7,279.1 L398.8,278.4 L398.9,276.7 L399.0,275.6 L399.1,272.0 L399.2,270.8 L399.3,267.4 L399.4,266.1 L399.5,261.7 L399.6,262.4 L399.7,261.1 L399.8,259.2 L399.9,260.1 L400.1,258.2 L400.2,258.9 L400.3,260.4 L400.4,259.0 L400.5,257.8 L400.6,257.6 L400.7,259.7 L400.8,258.9 L400.9,258.4 L401.0,257.9 L401.1,257.4 L401.2,258.4 L401.3,258.6 L401.4,256.5 L401.5,255.0 L401.7,255.7 L401.8,256.8 L401.9,256.5 L402.0,255.7 L402.1,255.4 L402.2,257.1 L402.3,257.2 L402.4,257.4 L402.5,256.3 L402.6,255.6 L402.7,255.8 L402.8,255.2 L402.9,256.5 L403.0,257.9 L403.1,261.6 L403.3,264.2 L403.4,266.3 L403.5,270.4 L403.6,274.0 L403.7,278.6 L403.8,280.8 L403.9,283.4 L404.0,286.2 L404.1,288.1 L404.2,292.9 L404.3,295.1 L404.4,297.3 L404.5,299.0 L404.6,299.7 L404.7,299.5 L404.9,301.9 L405.0,304.8 L405.1,307.1 L405.2,308.5 L405.3,309.6 L405.4,312.2 L405.5,312.4 L405.6,314.6 L405.7,314.8 L405.8,315.5 L405.9,316.3 L406.0,315.4 L406.1,317.3 L406.2,319.0 L406.3,319.9 L406.5,320.5 L406.6,323.4 L406.7,324.4 L406.8,326.5 L406.9,327.0 L407.0,326.8 L407.1,328.2 L407.2,329.8 L407.3,330.9 L407.4,335.3 L407.5,335.4 L407.6,335.8 L407.7,336.8 L407.8,338.3 L407.9,340.2 L408.0,340.0 L408.2,338.0 L408.3,337.6 L408.4,335.6 L408.5,338.0 L408.6,337.6 L408.7,336.5 L408.8,335.8 L408.9,336.8 L409.0,336.5 L409.1,334.2 L409.2,334.8 L409.3,334.7 L409.4,333.7 L409.5,332.1 L409.6,329.2 L409.8,326.5 L409.9,326.7 L410.0,323.0 L410.1,321.8 L410.2,320.4 L410.3,316.7 L410.4,315.2 L410.5,314.8 L410.6,313.5 L410.7,312.3 L410.8,311.3 L410.9,309.6 L411.0,306.5 L411.1,304.3 L411.2,303.9 L411.4,299.0 L411.5,300.0 L411.6,299.9 L411.7,299.8 L411.8,299.1 L411.9,299.5 L412.0,299.1 L412.1,297.1 L412.2,297.4 L412.3,298.9 L412.4,298.8 L412.5,299.8 L412.6,300.2 L412.7,299.9 L412.8,299.6 L413.0,299.9 L413.1,299.0 L413.2,299.4 L413.3,300.8 L413.4,299.8 L413.5,300.2 L413.6,298.9 L413.7,299.7 L413.8,299.1 L413.9,298.9 L414.0,301.9 L414.1,303.1 L414.2,303.7 L414.3,301.7 L414.4,303.3 L414.6,301.8 L414.7,300.4 L414.8,299.8 L414.9,304.9 L415.0,317.2 L415.1,318.6 L415.2,317.8 L415.3,316.8 L415.4,315.6 L415.5,315.4 L415.6,315.7 L415.7,315.7 L415.8,314.6 L415.9,315.7 L416.0,316.1 L416.2,315.5 L416.3,315.1 L416.4,314.3 L416.5,316.0 L416.6,315.0 L416.7,313.9 L416.8,311.9 L416.9,312.9 L417.0,311.9 L417.1,310.2 L417.2,308.7 L417.3,306.5 L417.4,304.3 L417.5,304.5 L417.6,302.7 L417.7,302.1 L417.9,301.8 L418.0,299.1 L418.1,298.8 L418.2,298.6 L418.3,297.9 L418.4,297.5 L418.5,295.2 L418.6,293.6 L418.7,291.1 L418.8,289.9 L418.9,289.7 L419.0,287.7 L419.1,287.6 L419.2,287.2 L419.3,286.4 L419.5,285.3 L419.6,283.0 L419.7,282.9 L419.8,281.5 L419.9,280.7 L420.0,281.0 L420.1,281.0 L420.2,279.9 L420.3,278.2 L420.4,276.7 L420.5,275.1 L420.6,274.1 L420.7,273.5 L420.8,272.0 L420.9,272.0 L421.1,272.2 L421.2,271.2 L421.3,271.3 L421.4,270.3 L421.5,269.6 L421.6,268.5 L421.7,267.0 L421.8,266.3 L421.9,265.2 L422.0,265.4 L422.1,263.6 L422.2,263.4 L422.3,263.4 L422.4,266.9 L422.5,268.0 L422.7,268.0 L422.8,270.9 L422.9,271.4 L423.0,271.5 L423.1,271.7 L423.2,273.8 L423.3,273.9 L423.4,274.2 L423.5,275.8 L423.6,275.6 L423.7,276.4 L423.8,277.2 L423.9,278.5 L424.0,278.7 L424.1,279.5 L424.3,279.3 L424.4,280.0 L424.5,281.9 L424.6,283.3 L424.7,283.4 L424.8,285.0 L424.9,285.2 L425.0,283.8 L425.1,283.1 L425.2,284.6 L425.3,283.2 L425.4,281.7 L425.5,280.4 L425.6,280.0 L425.7,277.5 L425.8,276.7 L426.0,276.3 L426.1,275.9 L426.2,274.3 L426.3,274.3 L426.4,274.0 L426.5,270.5 L426.6,268.1 L426.7,266.2 L426.8,264.1 L426.9,263.0 L427.0,264.3 L427.1,262.2 L427.2,260.2 L427.3,260.6 L427.4,264.1 L427.6,263.9 L427.7,263.7 L427.8,265.7 L427.9,266.9 L428.0,267.3 L428.1,268.8 L428.2,268.9 L428.3,270.2 L428.4,270.9 L428.5,272.2 L428.6,275.1 L428.7,277.2 L428.8,274.8 L428.9,275.9 L429.0,275.9 L429.2,276.3 L429.3,276.1 L429.4,277.4 L429.5,279.4 L429.6,280.3 L429.7,283.1 L429.8,283.7 L429.9,283.2 L430.0,285.9 L430.1,285.9 L430.2,285.2 L430.3,284.2 L430.4,285.8 L430.5,286.8 L430.6,289.1 L430.8,290.1 L430.9,289.4 L431.0,287.3 L431.1,288.9 L431.2,287.7 L431.3,287.7 L431.4,288.7 L431.5,286.9 L431.6,290.2 L431.7,290.6 L431.8,290.6 L431.9,288.7 L432.0,287.6 L432.1,285.4 L432.2,285.4 L432.4,284.4 L432.5,283.1 L432.6,282.7 L432.7,282.4 L432.8,282.7 L432.9,283.0 L433.0,284.0 L433.1,281.4 L433.2,281.6 L433.3,283.3 L433.4,282.2 L433.5,281.5 L433.6,280.6 L433.7,278.0 L433.8,277.6 L434.0,277.4 L434.1,277.6 L434.2,276.9 L434.3,276.8 L434.4,277.1 L434.5,274.3 L434.6,275.0 L434.7,276.9 L434.8,275.7 L434.9,275.9 L435.0,276.2 L435.1,276.6 L435.2,277.0 L435.3,277.5 L435.4,277.3 L435.5,277.6 L435.7,277.6 L435.8,279.6 L435.9,280.9 L436.0,282.8 L436.1,282.7 L436.2,282.8 L436.3,284.4 L436.4,284.7 L436.5,283.0 L436.6,283.0 L436.7,285.6 L436.8,286.8 L436.9,287.1 L437.0,287.8 L437.1,286.8 L437.3,285.0 L437.4,284.2 L437.5,284.9 L437.6,283.4 L437.7,282.9 L437.8,282.1 L437.9,282.0 L438.0,282.5 L438.1,282.7 L438.2,281.8 L438.3,281.6 L438.4,283.1 L438.5,280.1 L438.6,279.8 L438.7,279.0 L438.9,276.8 L439.0,277.9 L439.1,274.8 L439.2,274.2 L439.3,272.1 L439.4,271.3 L439.5,269.7 L439.6,268.4 L439.7,267.3 L439.8,268.1 L439.9,268.2 L440.0,266.7 L440.1,264.7 L440.2,265.0 L440.3,264.2 L440.5,263.9 L440.6,263.4 L440.7,262.3 L440.8,264.1 L440.9,263.8 L441.0,264.5 L441.1,265.3 L441.2,266.7 L441.3,267.8 L441.4,269.1 L441.5,270.4 L441.6,267.8 L441.7,266.5 L441.8,267.3 L441.9,267.3 L442.1,269.1 L442.2,272.7 L442.3,274.7 L442.4,274.5 L442.5,273.1 L442.6,273.5 L442.7,274.9 L442.8,275.4 L442.9,276.7 L443.0,278.3 L443.1,278.3 L443.2,278.2 L443.3,278.5 L443.4,278.8 L443.5,279.1 L443.7,278.1 L443.8,276.1 L443.9,276.1 L444.0,273.5 L444.1,275.3 L444.2,274.9 L444.3,276.0 L444.4,275.9 L444.5,275.5 L444.6,274.7 L444.7,273.5 L444.8,274.2 L444.9,275.5 L445.0,275.4 L445.1,274.9 L445.2,275.5 L445.4,274.3 L445.5,272.1 L445.6,273.3 L445.7,272.3 L445.8,270.7 L445.9,272.3 L446.0,271.4 L446.1,270.9 L446.2,271.7 L446.3,269.4 L446.4,268.5 L446.5,268.4 L446.6,267.3 L446.7,266.0 L446.8,264.7 L447.0,263.8 L447.1,263.0 L447.2,264.0 L447.3,263.9 L447.4,263.1 L447.5,265.4 L447.6,262.1 L447.7,261.9 L447.8,262.3 L447.9,263.4 L448.0,262.0 L448.1,261.0 L448.2,260.7 L448.3,260.2 L448.4,260.6 L448.6,261.6 L448.7,261.8 L448.8,262.7 L448.9,262.2 L449.0,262.7 L449.1,263.0 L449.2,263.0 L449.3,262.2 L449.4,262.4 L449.5,263.0 L449.6,264.1 L449.7,265.8 L449.8,266.8 L449.9,266.7 L450.0,267.2 L450.2,268.3 L450.3,270.4 L450.4,272.4 L450.5,272.3 L450.6,271.6 L450.7,271.8 L450.8,273.9 L450.9,274.6 L451.0,274.7 L451.1,276.4 L451.2,276.8 L451.3,277.9 L451.4,279.7 L451.5,281.8 L451.6,281.6 L451.8,282.1 L451.9,283.9 L452.0,285.8 L452.1,285.6 L452.2,285.9 L452.3,287.2 L452.4,286.6 L452.5,288.1 L452.6,290.4 L452.7,290.3 L452.8,291.7 L452.9,290.4 L453.0,289.2 L453.1,289.1 L453.2,289.0 L453.3,287.7 L453.5,284.7 L453.6,284.6 L453.7,283.8 L453.8,284.4 L453.9,286.5 L454.0,286.9 L454.1,287.1 L454.2,288.9 L454.3,291.8 L454.4,291.8 L454.5,293.5 L454.6,293.3 L454.7,295.8 L454.8,296.2 L454.9,297.3 L455.1,299.1 L455.2,299.4 L455.3,299.4 L455.4,300.3 L455.5,301.8 L455.6,301.7 L455.7,303.8 L455.8,303.4 L455.9,303.1 L456.0,301.8 L456.1,301.1 L456.2,300.7 L456.3,300.4 L456.4,300.4 L456.5,301.8 L456.7,300.1 L456.8,299.5 L456.9,299.9 L457.0,301.1 L457.1,299.3 L457.2,298.8 L457.3,300.2 L457.4,299.3 L457.5,297.3 L457.6,297.6 L457.7,297.4 L457.8,298.0 L457.9,298.8 L458.0,297.6 L458.1,294.5 L458.3,294.9 L458.4,295.5 L458.5,295.6 L458.6,297.4 L458.7,298.1 L458.8,298.7 L458.9,301.3 L459.0,303.7 L459.1,304.9 L459.2,305.1 L459.3,306.0 L459.4,305.9 L459.5,308.7 L459.6,309.2 L459.7,311.0 L459.9,312.0 L460.0,312.7 L460.1,314.8 L460.2,315.9 L460.3,318.0 L460.4,318.5 L460.5,320.2 L460.6,321.4 L460.7,321.8 L460.8,323.3 L460.9,321.2 L461.0,321.1 L461.1,319.3 L461.2,318.3 L461.3,318.7 L461.5,318.1 L461.6,318.1 L461.7,317.5 L461.8,316.8 L461.9,313.9 L462.0,313.7 L462.1,311.4 L462.2,310.4 L462.3,311.4 L462.4,313.1 L462.5,312.4 L462.6,315.0 L462.7,314.4 L462.8,313.8 L462.9,314.0 L463.0,314.9 L463.2,315.8 L463.3,316.2 L463.4,317.2 L463.5,318.3 L463.6,319.3 L463.7,318.6 L463.8,320.0 L463.9,320.2 L464.0,322.1 L464.1,323.4 L464.2,325.2 L464.3,325.7 L464.4,325.2 L464.5,325.4 L464.6,326.4 L464.8,325.5 L464.9,325.6 L465.0,324.9 L465.1,324.4 L465.2,323.7 L465.3,326.2 L465.4,327.1 L465.5,325.6 L465.6,325.2 L465.7,322.5 L465.8,322.7 L465.9,323.2 L466.0,321.4 L466.1,320.9 L466.2,319.1 L466.4,318.9 L466.5,319.5 L466.6,319.0 L466.7,320.1 L466.8,320.7 L466.9,321.2 L467.0,321.0 L467.1,318.0 L467.2,316.5 L467.3,314.1 L467.4,312.6 L467.5,309.5 L467.6,310.3 L467.7,308.1 L467.8,305.4 L468.0,304.3 L468.1,301.9 L468.2,300.6 L468.3,298.2 L468.4,296.3 L468.5,294.9 L468.6,294.4 L468.7,294.9 L468.8,294.1 L468.9,293.6 L469.0,292.3 L469.1,291.8 L469.2,287.5 L469.3,288.6 L469.4,286.5 L469.6,286.3 L469.7,285.7 L469.8,283.9 L469.9,283.1 L470.0,283.6 L470.1,282.1 L470.2,281.4 L470.3,282.6 L470.4,281.0 L470.5,280.9 L470.6,280.5 L470.7,280.0 L470.8,279.8 L470.9,280.3 L471.0,278.3 L471.1,278.5 L471.3,279.7 L471.4,280.0 L471.5,280.7 L471.6,283.5 L471.7,285.2 L471.8,286.6 L471.9,284.2 L472.0,284.6 L472.1,285.1 L472.2,285.9 L472.3,285.1 L472.4,285.0 L472.5,282.6 L472.6,281.5 L472.7,279.5 L472.9,279.6 L473.0,279.1 L473.1,279.4 L473.2,279.3 L473.3,280.7 L473.4,280.6 L473.5,280.9 L473.6,280.6 L473.7,278.4 L473.8,277.5 L473.9,275.6 L474.0,274.3 L474.1,273.0 L474.2,271.8 L474.3,272.3 L474.5,271.2 L474.6,271.4 L474.7,271.6 L474.8,270.0 L474.9,267.5 L475.0,268.5 L475.1,266.5 L475.2,265.7 L475.3,266.6 L475.4,267.3 L475.5,267.9 L475.6,268.6 L475.7,270.0 L475.8,272.3 L475.9,273.0 L476.1,272.7 L476.2,272.8 L476.3,273.0 L476.4,272.9 L476.5,275.0 L476.6,276.0 L476.7,276.5 L476.8,276.3 L476.9,277.2 L477.0,277.6 L477.1,278.5 L477.2,277.4 L477.3,280.9 L477.4,281.8 L477.5,280.0 L477.7,280.9 L477.8,284.0 L477.9,284.6 L478.0,286.9 L478.1,288.1 L478.2,288.3 L478.3,287.1 L478.4,287.4 L478.5,287.6 L478.6,287.5 L478.7,287.9 L478.8,288.3 L478.9,287.7 L479.0,286.7 L479.1,286.3 L479.3,286.2 L479.4,285.7 L479.5,286.4 L479.6,286.2 L479.7,285.1 L479.8,284.2 L479.9,283.0 L480.0,280.3 L480.1,279.2 L480.2,278.4 L480.3,278.8 L480.4,278.9 L480.5,277.3 L480.6,277.2 L480.7,276.8 L480.8,278.3 L481.0,278.4 L481.1,278.8 L481.2,278.2 L481.3,279.1 L481.4,280.0 L481.5,280.2 L481.6,280.7 L481.7,279.5 L481.8,280.6 L481.9,281.9 L482.0,282.9 L482.1,283.0 L482.2,283.4 L482.3,283.4 L482.4,285.6 L482.6,283.5 L482.7,282.6 L482.8,283.8 L482.9,286.2 L483.0,286.8 L483.1,287.2 L483.2,290.4 L483.3,290.8 L483.4,292.8 L483.5,292.5 L483.6,291.5 L483.7,291.1 L483.8,293.4 L483.9,292.5 L484.0,292.1 L484.2,293.1 L484.3,293.1 L484.4,292.1 L484.5,293.3 L484.6,294.0 L484.7,295.2 L484.8,294.5 L484.9,297.4 L485.0,296.2 L485.1,297.7 L485.2,297.0 L485.3,299.2 L485.4,300.3 L485.5,301.0 L485.6,300.2 L485.8,302.1 L485.9,301.4 L486.0,302.2 L486.1,301.0 L486.2,301.6 L486.3,301.4 L486.4,301.9 L486.5,300.4 L486.6,301.4 L486.7,301.9 L486.8,300.4 L486.9,301.1 L487.0,301.1 L487.1,302.7 L487.2,303.1 L487.4,306.0 L487.5,304.2 L487.6,302.5 L487.7,301.6 L487.8,300.3 L487.9,296.3 L488.0,293.3 L488.1,294.2 L488.2,292.3 L488.3,293.4 L488.4,294.1 L488.5,294.1 L488.6,295.6 L488.7,297.4 L488.8,298.1 L489.0,296.7 L489.1,295.9 L489.2,297.9 L489.3,296.8 L489.4,297.1 L489.5,297.0 L489.6,297.4 L489.7,297.5 L489.8,299.0 L489.9,300.3 L490.0,301.3 L490.1,301.8 L490.2,303.4 L490.3,307.4 L490.4,308.2 L490.5,311.6 L490.7,314.9 L490.8,316.8 L490.9,319.1 L491.0,322.3 L491.1,326.2 L491.2,329.9 L491.3,334.0 L491.4,335.1 L491.5,335.9 L491.6,334.6 L491.7,334.9 L491.8,335.4 L491.9,335.6 L492.0,335.6 L492.1,336.9 L492.3,336.9 L492.4,334.8 L492.5,336.9 L492.6,338.4 L492.7,339.1 L492.8,337.9 L492.9,336.4 L493.0,336.6 L493.1,335.8 L493.2,335.8 L493.3,335.3 L493.4,336.7 L493.5,337.8 L493.6,338.9 L493.7,338.9 L493.9,337.9 L494.0,341.4 L494.1,342.0 L494.2,343.3 L494.3,343.6 L494.4,343.9 L494.5,344.6 L494.6,345.3 L494.7,347.9 L494.8,351.1 L494.9,350.4 L495.0,350.5 L495.1,352.9 L495.2,352.3 L495.3,351.7 L495.5,354.3 L495.6,353.0 L495.7,353.8 L495.8,352.2 L495.9,352.7 L496.0,353.1 L496.1,354.2 L496.2,353.8 L496.3,351.9 L496.4,351.1 L496.5,351.4 L496.6,347.4 L496.7,344.1 L496.8,342.2 L496.9,341.8 L497.1,341.9 L497.2,342.1 L497.3,339.9 L497.4,337.0 L497.5,336.9 L497.6,335.4 L497.7,334.2 L497.8,333.0 L497.9,331.0 L498.0,327.4 L498.1,327.0 L498.2,324.9 L498.3,323.3 L498.4,325.1 L498.5,326.5 L498.6,329.1 L498.8,329.0 L498.9,330.7 L499.0,332.4 L499.1,333.3 L499.2,335.1 L499.3,337.0 L499.4,338.0 L499.5,337.1 L499.6,338.3 L499.7,338.7 L499.8,341.3 L499.9,344.1 L500.0,342.7 L500.1,344.0 L500.2,346.4 L500.4,347.1 L500.5,346.4 L500.6,348.2 L500.7,348.9 L500.8,348.3 L500.9,349.1 L501.0,348.1 L501.1,347.0 L501.2,346.7 L501.3,347.4 L501.4,347.6 L501.5,348.4 L501.6,348.7 L501.7,348.4 L501.8,348.9 L502.0,348.0 L502.1,345.6 L502.2,346.9 L502.3,347.1 L502.4,346.8 L502.5,346.8 L502.6,347.7 L502.7,348.7 L502.8,348.1 L502.9,348.1 L503.0,347.7 L503.1,348.6 L503.2,347.8 L503.3,346.9 L503.4,347.2 L503.6,346.4 L503.7,344.2 L503.8,346.5 L503.9,345.7 L504.0,346.9 L504.1,348.0 L504.2,347.8 L504.3,346.7 L504.4,346.2 L504.5,347.1 L504.6,348.0 L504.7,347.8 L504.8,347.0 L504.9,347.1 L505.0,347.9 L505.2,345.1 L505.3,345.4 L505.4,344.9 L505.5,344.8 L505.6,344.7 L505.7,344.0 L505.8,344.9 L505.9,344.8 L506.0,346.8 L506.1,348.9 L506.2,347.2 L506.3,348.1 L506.4,348.1 L506.5,347.8 L506.6,348.3 L506.8,348.1 L506.9,349.5 L507.0,350.7 L507.1,348.9 L507.2,347.6 L507.3,346.6 L507.4,348.0 L507.5,349.6 L507.6,349.7 L507.7,349.9 L507.8,348.6 L507.9,348.6 L508.0,345.9 L508.1,345.8 L508.2,345.6 L508.3,343.9 L508.5,342.7 L508.6,342.8 L508.7,341.1 L508.8,338.4 L508.9,339.2 L509.0,338.9 L509.1,339.3 L509.2,340.4 L509.3,338.6 L509.4,336.9 L509.5,335.1 L509.6,334.0 L509.7,335.5 L509.8,334.7 L509.9,334.5 L510.1,334.7 L510.2,334.8 L510.3,332.7 L510.4,332.0 L510.5,329.0 L510.6,327.9 L510.7,329.3 L510.8,327.5 L510.9,325.5 L511.0,326.3 L511.1,328.6 L511.2,327.7 L511.3,330.2 L511.4,331.2 L511.5,334.1 L511.7,336.0 L511.8,338.2 L511.9,337.2 L512.0,336.5 L512.1,337.7 L512.2,339.9 L512.3,340.5 L512.4,340.7 L512.5,343.0 L512.6,344.7 L512.7,345.2 L512.8,344.7 L512.9,344.4 L513.0,343.8 L513.1,345.1 L513.3,347.5 L513.4,346.7 L513.5,347.2 L513.6,346.9 L513.7,346.9 L513.8,346.0 L513.9,346.6 L514.0,344.8 L514.1,344.8 L514.2,344.3 L514.3,343.8 L514.4,342.9 L514.5,342.9 L514.6,345.2 L514.7,346.4 L514.9,345.1 L515.0,345.6 L515.1,346.1 L515.2,346.7 L515.3,348.5 L515.4,350.2 L515.5,351.8 L515.6,351.3 L515.7,351.9 L515.8,351.0 L515.9,351.7 L516.0,351.0 L516.1,352.1 L516.2,354.8 L516.3,354.1 L516.4,355.2 L516.6,355.3 L516.7,356.6 L516.8,358.3 L516.9,359.4 L517.0,361.8 L517.1,364.1 L517.2,365.8 L517.3,366.9 L517.4,368.0 L517.5,367.2 L517.6,366.0 L517.7,363.1 L517.8,360.8 L517.9,360.7 L518.0,359.6 L518.2,359.8 L518.3,359.2 L518.4,359.1 L518.5,359.4 L518.6,359.0 L518.7,360.2 L518.8,359.1 L518.9,358.8 L519.0,359.4 L519.1,359.9 L519.2,359.3 L519.3,360.3 L519.4,359.9 L519.5,359.5 L519.6,358.2 L519.8,359.9 L519.9,360.4 L520.0,360.2 L520.1,359.1 L520.2,359.5 L520.3,359.3 L520.4,361.6 L520.5,362.6 L520.6,361.2 L520.7,362.1 L520.8,360.3 L520.9,361.9 L521.0,362.9 L521.1,365.1 L521.2,364.6 L521.4,364.7 L521.5,363.0 L521.6,363.6 L521.7,364.5 L521.8,366.6 L521.9,367.0 L522.0,366.3 L522.1,365.1 L522.2,363.1 L522.3,361.6 L522.4,361.3 L522.5,360.1 L522.6,359.4 L522.7,360.3 L522.8,357.7 L523.0,356.7 L523.1,357.3 L523.2,356.1 L523.3,355.0 L523.4,353.3 L523.5,351.1 L523.6,354.0 L523.7,352.4 L523.8,349.9 L523.9,350.2 L524.0,351.9 L524.1,352.3 L524.2,352.7 L524.3,353.1 L524.4,355.2 L524.6,356.4 L524.7,356.9 L524.8,356.8 L524.9,355.4 L525.0,356.3 L525.1,358.2 L525.2,361.8 L525.3,361.3 L525.4,360.3 L525.5,359.3 L525.6,359.1 L525.7,356.9 L525.8,357.6 L525.9,356.0 L526.0,354.4 L526.1,352.7 L526.3,350.0 L526.4,349.1 L526.5,347.9 L526.6,347.7 L526.7,350.3 L526.8,351.2 L526.9,351.8 L527.0,351.4 L527.1,353.0 L527.2,352.8 L527.3,353.2 L527.4,355.7 L527.5,357.8 L527.6,359.7 L527.7,359.7 L527.9,359.8 L528.0,359.4 L528.1,358.3 L528.2,358.5 L528.3,356.8 L528.4,355.6 L528.5,354.9 L528.6,354.3 L528.7,355.5 L528.8,354.7 L528.9,355.5 L529.0,356.2 L529.1,355.9 L529.2,355.0 L529.3,354.4 L529.5,354.1 L529.6,354.5 L529.7,353.6 L529.8,353.6 L529.9,354.4 L530.0,353.3 L530.1,350.9 L530.2,351.7 L530.3,353.3 L530.4,352.2 L530.5,350.9 L530.6,352.2 L530.7,353.2 L530.8,353.7 L530.9,351.3 L531.1,352.4 L531.2,352.6 L531.3,353.3 L531.4,356.5 L531.5,358.5 L531.6,360.4 L531.7,360.4 L531.8,360.8 L531.9,359.3 L532.0,359.8 L532.1,359.6 L532.2,359.6 L532.3,359.6 L532.4,357.2 L532.5,357.4 L532.7,356.3 L532.8,355.5 L532.9,356.9 L533.0,356.7 L533.1,357.6 L533.2,357.9 L533.3,358.0 L533.4,358.3 L533.5,359.0 L533.6,357.5 L533.7,358.0 L533.8,357.2 L533.9,355.4 L534.0,355.0 L534.1,354.1 L534.2,352.9 L534.4,352.2 L534.5,350.9 L534.6,353.1 L534.7,351.3 L534.8,351.7 L534.9,353.9 L535.0,354.6 L535.1,355.9 L535.2,355.4 L535.3,356.5 L535.4,356.9 L535.5,355.8 L535.6,354.9 L535.7,355.2 L535.8,354.7 L536.0,354.1 L536.1,353.3 L536.2,352.7 L536.3,352.4 L536.4,350.8 L536.5,352.1 L536.6,352.0 L536.7,351.1 L536.8,350.9 L536.9,350.8 L537.0,350.6 L537.1,349.6 L537.2,347.6 L537.3,347.4 L537.4,347.3 L537.6,346.4 L537.7,346.3 L537.8,347.9 L537.9,346.9 L538.0,346.6 L538.1,346.6 L538.2,345.2 L538.3,344.5 L538.4,344.6 L538.5,346.3 L538.6,347.7 L538.7,347.2 L538.8,347.0 L538.9,346.2 L539.0,345.8 L539.2,346.3 L539.3,347.5 L539.4,348.5 L539.5,348.3 L539.6,349.2 L539.7,348.0 L539.8,349.3 L539.9,350.9 L540.0,350.5 L540.1,352.0 L540.2,349.6 L540.3,350.4 L540.4,350.2 L540.5,350.2 L540.6,350.9 L540.8,352.5 L540.9,353.3 L541.0,350.8 L541.1,348.5 L541.2,345.3 L541.3,346.4 L541.4,345.0 L541.5,344.4 L541.6,342.8 L541.7,342.9 L541.8,341.5 L541.9,340.1 L542.0,339.2 L542.1,337.3 L542.2,338.0 L542.4,337.5 L542.5,339.6 L542.6,338.9 L542.7,343.2 L542.8,343.9 L542.9,345.6 L543.0,346.2 L543.1,345.7 L543.2,345.8 L543.3,346.6 L543.4,345.7 L543.5,348.5 L543.6,350.2 L543.7,349.3 L543.8,349.9 L543.9,353.1 L544.1,353.3 L544.2,355.2 L544.3,354.1 L544.4,353.4 L544.5,354.4 L544.6,353.2 L544.7,354.5 L544.8,353.7 L544.9,353.5 L545.0,354.0 L545.1,355.9 L545.2,356.3 L545.3,358.8 L545.4,359.0 L545.5,360.6 L545.7,358.7 L545.8,359.5 L545.9,361.7 L546.0,360.3 L546.1,359.5 L546.2,359.7 L546.3,357.1 L546.4,356.3 L546.5,356.5 L546.6,357.4 L546.7,360.6 L546.8,358.8 L546.9,356.4 L547.0,356.0 L547.1,356.3 L547.3,354.9 L547.4,355.4 L547.5,353.8 L547.6,351.5 L547.7,348.6 L547.8,347.3 L547.9,346.2 L548.0,344.5 L548.1,342.2 L548.2,342.0 L548.3,342.6 L548.4,342.5 L548.5,342.8 L548.6,342.4 L548.7,341.2 L548.9,339.5 L549.0,338.1 L549.1,337.4 L549.2,338.1 L549.3,337.9 L549.4,337.3 L549.5,337.0 L549.6,336.1 L549.7,337.2 L549.8,337.3 L549.9,334.2 L550.0,333.1 L550.1,331.6 L550.2,331.0 L550.3,328.8 L550.5,328.2 L550.6,328.2 L550.7,326.9 L550.8,326.0 L550.9,323.6 L551.0,322.7 L551.1,321.2 L551.2,320.0 L551.3,318.2 L551.4,317.6 L551.5,315.6 L551.6,316.6 L551.7,316.2 L551.8,316.2 L551.9,314.6 L552.1,313.8 L552.2,312.5 L552.3,312.2 L552.4,312.8 L552.5,314.5 L552.6,315.2 L552.7,316.2 L552.8,316.2 L552.9,316.3 L553.0,315.8 L553.1,316.6 L553.2,318.1 L553.3,319.9 L553.4,320.2 L553.5,320.3 L553.6,318.8 L553.8,319.5 L553.9,318.0 L554.0,315.8 L554.1,317.0 L554.2,315.4 L554.3,314.1 L554.4,312.6 L554.5,312.7 L554.6,311.7 L554.7,312.2 L554.8,312.1 L554.9,311.8 L555.0,309.6 L555.1,309.7 L555.2,308.5 L555.4,308.3 L555.5,308.8 L555.6,308.2 L555.7,307.0 L555.8,307.4 L555.9,306.2 L556.0,306.6 L556.1,306.9 L556.2,305.9 L556.3,305.4 L556.4,306.1 L556.5,307.3 L556.6,306.4 L556.7,305.5 L556.8,305.3 L557.0,304.5 L557.1,305.5 L557.2,304.3 L557.3,303.2 L557.4,302.4 L557.5,302.6 L557.6,302.0 L557.7,301.7 L557.8,301.2 L557.9,301.8 L558.0,302.4 L558.1,304.0 L558.2,303.9 L558.3,303.5 L558.4,305.1 L558.6,305.4 L558.7,306.0 L558.8,307.1 L558.9,309.5 L559.0,308.3 L559.1,311.3 L559.2,311.7 L559.3,312.8 L559.4,312.3 L559.5,313.6 L559.6,314.3 L559.7,314.5 L559.8,314.9 L559.9,316.0 L560.0,315.6 L560.2,315.6 L560.3,315.0 L560.4,316.2 L560.5,316.7 L560.6,317.6 L560.7,318.8 L560.8,318.7 L560.9,318.5 L561.0,317.3 L561.1,318.2 L561.2,318.3 L561.3,317.5 L561.4,318.3 L561.5,318.8 L561.6,319.2 L561.7,320.4 L561.9,321.8 L562.0,320.3 L562.1,319.7 L562.2,319.3 L562.3,320.2 L562.4,319.3 L562.5,317.4 L562.6,318.2 L562.7,318.5 L562.8,316.5 L562.9,314.4 L563.0,312.4 L563.1,312.9 L563.2,312.0 L563.3,312.6 L563.5,311.6 L563.6,311.6 L563.7,311.0 L563.8,309.1 L563.9,308.6 L564.0,308.6 L564.1,308.2 L564.2,307.6 L564.3,307.8 L564.4,307.4 L564.5,306.6 L564.6,304.9 L564.7,307.3 L564.8,308.3 L564.9,309.2 L565.1,307.6 L565.2,304.5 L565.3,304.3 L565.4,304.2 L565.5,303.0 L565.6,305.7 L565.7,305.5 L565.8,308.5 L565.9,307.4 L566.0,307.1 L566.1,306.9 L566.2,305.7 L566.3,305.7 L566.4,303.8 L566.5,303.3 L566.7,302.5 L566.8,299.4 L566.9,300.0 L567.0,299.0 L567.1,299.9 L567.2,298.5 L567.3,297.5 L567.4,297.5 L567.5,296.6 L567.6,295.1 L567.7,294.0 L567.8,294.6 L567.9,295.0 L568.0,295.0 L568.1,297.9 L568.3,299.4 L568.4,299.7 L568.5,299.9 L568.6,298.9 L568.7,298.2 L568.8,299.2 L568.9,300.0 L569.0,302.7 L569.1,303.9 L569.2,304.4 L569.3,305.6 L569.4,306.3 L569.5,306.4 L569.6,308.3 L569.7,309.5 L569.9,312.0 L570.0,311.0 L570.1,312.6 L570.2,314.8 L570.3,314.1 L570.4,314.6 L570.5,313.9 L570.6,314.8 L570.7,314.0 L570.8,315.0 L570.9,314.8 L571.0,314.7 L571.1,314.9 L571.2,314.0 L571.3,311.8 L571.4,312.6 L571.6,313.8 L571.7,313.1 L571.8,311.9 L571.9,313.6 L572.0,314.1 L572.1,314.8 L572.2,313.7 L572.3,312.7 L572.4,313.2 L572.5,314.0 L572.6,312.7 L572.7,314.4 L572.8,313.0 L572.9,312.6 L573.0,310.0 L573.2,308.7 L573.3,309.3 L573.4,309.4 L573.5,309.5 L573.6,309.9 L573.7,309.4 L573.8,308.0 L573.9,309.6 L574.0,309.7 L574.1,307.9 L574.2,307.2 L574.3,308.3 L574.4,309.2 L574.5,310.0 L574.6,311.4 L574.8,309.7 L574.9,309.5 L575.0,310.0 L575.1,311.3 L575.2,311.3 L575.3,311.4 L575.4,309.1 L575.5,309.5 L575.6,309.2 L575.7,307.9 L575.8,307.3 L575.9,307.7 L576.0,310.1 L576.1,308.7 L576.2,308.4 L576.4,309.4 L576.5,309.8 L576.6,311.2 L576.7,312.4 L576.8,314.0 L576.9,313.3 L577.0,312.8 L577.1,312.8 L577.2,312.2 L577.3,312.0 L577.4,312.4 L577.5,313.8 L577.6,313.5 L577.7,312.6 L577.8,312.6 L578.0,311.9 L578.1,313.3 L578.2,315.0 L578.3,314.1 L578.4,315.4 L578.5,315.7 L578.6,316.4 L578.7,316.8 L578.8,317.6 L578.9,318.5 L579.0,320.7 L579.1,318.7 L579.2,318.9 L579.3,321.3 L579.4,322.4 L579.5,323.5 L579.7,324.2 L579.8,326.6 L579.9,325.5 L580.0,323.3 L580.1,323.6 L580.2,322.8 L580.3,322.3 L580.4,323.8 L580.5,322.6 L580.6,324.6 L580.7,325.2 L580.8,325.5 L580.9,324.1 L581.0,324.0 L581.1,323.8 L581.3,324.3 L581.4,323.7 L581.5,323.2 L581.6,322.0 L581.7,320.3 L581.8,319.5 L581.9,319.5 L582.0,319.6 L582.1,317.9 L582.2,317.8 L582.3,317.9 L582.4,316.1 L582.5,314.7 L582.6,314.6 L582.7,315.1 L582.9,316.1 L583.0,315.1 L583.1,315.8 L583.2,314.8 L583.3,315.8 L583.4,315.6 L583.5,315.1 L583.6,314.9 L583.7,314.6 L583.8,314.1 L583.9,315.3 L584.0,316.2 L584.1,315.9 L584.2,314.2 L584.3,314.9 L584.5,316.4 L584.6,317.4 L584.7,317.6 L584.8,316.6 L584.9,317.7 L585.0,317.5 L585.1,317.7 L585.2,318.6 L585.3,320.0 L585.4,320.4 L585.5,321.4 L585.6,321.0 L585.7,323.1 L585.8,321.9 L585.9,321.3 L586.1,321.1 L586.2,320.0 L586.3,320.1 L586.4,322.7 L586.5,323.0 L586.6,323.0 L586.7,324.2 L586.8,325.7 L586.9,325.5 L587.0,325.2 L587.1,326.0 L587.2,326.6 L587.3,327.4 L587.4,328.2 L587.5,328.4 L587.7,327.5 L587.8,329.5 L587.9,330.0 L588.0,328.0 L588.1,327.7 L588.2,327.6 L588.3,326.8 L588.4,328.1 L588.5,329.4 L588.6,330.9 L588.7,332.0 L588.8,331.2 L588.9,329.8 L589.0,329.6 L589.1,329.3 L589.2,327.8 L589.4,326.2 L589.5,325.1 L589.6,326.3 L589.7,325.7 L589.8,327.3 L589.9,325.5 L590.0,325.1 L590.1,324.4 L590.2,321.4 L590.3,319.0 L590.4,317.7 L590.5,316.7 L590.6,315.9 L590.7,316.6 L590.8,317.6 L591.0,316.4 L591.1,318.5 L591.2,320.2 L591.3,320.8 L591.4,320.8 L591.5,320.9 L591.6,323.1 L591.7,324.2 L591.8,325.3 L591.9,327.5 L592.0,328.0 L592.1,329.2 L592.2,328.9 L592.3,329.3 L592.4,331.0 L592.6,331.7 L592.7,332.9 L592.8,334.3 L592.9,335.5 L593.0,335.0 L593.1,336.2 L593.2,338.6 L593.3,338.5 L593.4,336.6 L593.5,333.6 L593.6,334.3 L593.7,334.1 L593.8,333.8 L593.9,334.5 L594.0,333.2 L594.2,332.5 L594.3,331.4 L594.4,328.4 L594.5,328.4 L594.6,327.2 L594.7,326.1 L594.8,326.5 L594.9,326.8 L595.0,324.7 L595.1,324.2 L595.2,324.9 L595.3,326.8 L595.4,326.4 L595.5,326.5 L595.6,324.9 L595.8,324.4 L595.9,324.7 L596.0,325.6 L596.1,326.6 L596.2,328.2 L596.3,328.7 L596.4,329.2 L596.5,329.3 L596.6,329.0 L596.7,329.6 L596.8,331.1 L596.9,330.9 L597.0,330.1 L597.1,332.0 L597.2,332.3 L597.4,332.5 L597.5,332.8 L597.6,333.1 L597.7,334.1 L597.8,334.9 L597.9,333.9 L598.0,333.0 L598.1,335.6 L598.2,339.0 L598.3,338.8 L598.4,339.9 L598.5,340.7 L598.6,342.0 L598.7,339.8 L598.8,338.2 L598.9,337.0 L599.1,334.4 L599.2,330.3 L599.3,328.9 L599.4,329.0 L599.5,330.9 L599.6,331.4 L599.7,332.8 L599.8,332.8 L599.9,333.5 L600.0,334.9 L600.1,335.6 L600.2,337.6 L600.3,337.9 L600.4,337.5 L600.5,339.2 L600.7,339.9 L600.8,342.9 L600.9,342.8 L601.0,342.9 L601.1,345.1 L601.2,344.2 L601.3,345.3 L601.4,348.3 L601.5,350.5 L601.6,350.2 L601.7,351.2 L601.8,350.8 L601.9,353.3 L602.0,354.1 L602.1,353.7 L602.3,355.3 L602.4,355.3 L602.5,356.5 L602.6,355.2 L602.7,353.5 L602.8,349.9 L602.9,350.3 L603.0,348.2 L603.1,345.8 L603.2,346.0 L603.3,344.7 L603.4,341.1 L603.5,339.2 L603.6,341.5 L603.7,340.4 L603.9,340.8 L604.0,338.8 L604.1,338.5 L604.2,338.5 L604.3,338.8 L604.4,337.8 L604.5,337.7 L604.6,338.0 L604.7,337.6 L604.8,336.5 L604.9,336.8 L605.0,335.0 L605.1,336.4 L605.2,335.3 L605.3,335.2 L605.5,333.0 L605.6,333.4 L605.7,333.8 L605.8,335.2 L605.9,333.5 L606.0,333.7 L606.1,335.6 L606.2,336.7 L606.3,338.3 L606.4,337.2 L606.5,337.5 L606.6,340.5 L606.7,340.7 L606.8,340.3 L606.9,341.1 L607.0,341.3 L607.2,342.3 L607.3,342.8 L607.4,343.4 L607.5,345.0 L607.6,345.3 L607.7,345.9 L607.8,346.8 L607.9,348.3 L608.0,350.0 L608.1,350.2 L608.2,349.1 L608.3,351.6 L608.4,351.7 L608.5,349.8 L608.6,348.6 L608.8,349.3 L608.9,347.7 L609.0,348.9 L609.1,349.6 L609.2,347.3 L609.3,347.9 L609.4,347.7 L609.5,348.7 L609.6,348.6 L609.7,348.6 L609.8,347.4 L609.9,348.0 L610.0,345.4 L610.1,344.5 L610.2,343.9 L610.4,343.3 L610.5,341.2 L610.6,338.5 L610.7,338.1 L610.8,335.6 L610.9,333.3 L611.0,331.5 L611.1,331.0 L611.2,332.2 L611.3,330.9 L611.4,330.8 L611.5,329.9 L611.6,332.1 L611.7,332.7 L611.8,332.8 L612.0,334.1 L612.1,334.0 L612.2,332.6 L612.3,333.0 L612.4,334.4 L612.5,332.4 L612.6,335.6 L612.7,337.0 L612.8,336.9 L612.9,337.9 L613.0,340.7 L613.1,339.0 L613.2,336.0 L613.3,334.9 L613.4,331.4 L613.6,329.1 L613.7,326.2 L613.8,326.3 L613.9,324.6 L614.0,321.1 L614.1,318.1 L614.2,317.8 L614.3,319.0 L614.4,320.0 L614.5,321.7 L614.6,321.4 L614.7,323.1 L614.8,323.8 L614.9,326.8 L615.0,328.8 L615.2,327.1 L615.3,327.6 L615.4,327.9 L615.5,330.8 L615.6,331.0 L615.7,329.1 L615.8,331.3 L615.9,334.2 L616.0,334.4 L616.1,335.0 L616.2,335.3 L616.3,336.7 L616.4,338.1 L616.5,339.2 L616.6,335.6 L616.7,332.6 L616.9,328.7 L617.0,327.0 L617.1,325.9 L617.2,326.6 L617.3,326.8 L617.4,326.2 L617.5,326.6 L617.6,327.5 L617.7,329.7 L617.8,329.9 L617.9,329.3 L618.0,330.4 L618.1,330.8 L618.2,333.1 L618.3,334.6 L618.5,334.1 L618.6,332.8 L618.7,333.6 L618.8,335.7 L618.9,336.2 L619.0,338.0 L619.1,338.2 L619.2,336.1 L619.3,336.2 L619.4,336.8 L619.5,336.2 L619.6,337.2 L619.7,337.4 L619.8,337.8 L619.9,338.0 L620.1,340.3 L620.2,339.9 L620.3,339.6 L620.4,342.7 L620.5,345.8 L620.6,346.6 L620.7,344.0 L620.8,343.0 L620.9,341.3 L621.0,339.9 L621.1,338.3 L621.2,338.4 L621.3,338.4 L621.4,337.2 L621.5,335.9 L621.7,334.7 L621.8,333.9 L621.9,333.9 L622.0,332.1 L622.1,331.2 L622.2,329.7 L622.3,332.2 L622.4,330.4 L622.5,332.4 L622.6,331.7 L622.7,333.1 L622.8,333.7 L622.9,334.9 L623.0,336.0 L623.1,336.5 L623.3,336.9 L623.4,338.6 L623.5,342.0 L623.6,343.2 L623.7,343.0 L623.8,344.4 L623.9,344.4 L624.0,345.4 L624.1,346.2 L624.2,344.5 L624.3,342.5 L624.4,342.7 L624.5,342.9 L624.6,341.9 L624.7,343.5 L624.8,344.4 L625.0,343.0 L625.1,342.1 L625.2,342.1 L625.3,342.2 L625.4,341.0 L625.5,341.7 L625.6,341.3 L625.7,340.5 L625.8,342.0 L625.9,340.0 L626.0,338.0 L626.1,335.8 L626.2,336.6 L626.3,336.9 L626.4,336.6 L626.6,336.7 L626.7,333.1 L626.8,333.2 L626.9,332.4 L627.0,331.1 L627.1,329.6 L627.2,327.2 L627.3,327.8 L627.4,327.2 L627.5,327.5 L627.6,329.2 L627.7,329.3 L627.8,331.1 L627.9,329.4 L628.0,330.6 L628.2,329.8 L628.3,328.9 L628.4,330.2 L628.5,331.7 L628.6,331.9 L628.7,333.3 L628.8,332.6 L628.9,332.8 L629.0,334.0 L629.1,335.0 L629.2,334.4 L629.3,336.2 L629.4,334.5 L629.5,335.8 L629.6,336.2 L629.8,337.5 L629.9,335.9 L630.0,335.4 L630.1,334.6 L630.2,334.3 L630.3,334.1 L630.4,332.1 L630.5,331.4 L630.6,331.0 L630.7,330.5 L630.8,329.7 L630.9,329.5 L631.0,329.7 L631.1,331.3 L631.2,328.7 L631.4,330.0 L631.5,331.9 L631.6,331.9 L631.7,328.9 L631.8,327.9 L631.9,329.6 L632.0,330.2 L632.1,331.2 L632.2,334.2 L632.3,335.1 L632.4,335.3 L632.5,334.7 L632.6,336.8 L632.7,339.8 L632.8,341.8 L633.0,341.5 L633.1,341.6 L633.2,341.8 L633.3,342.1 L633.4,343.0 L633.5,345.0 L633.6,344.8 L633.7,345.0 L633.8,345.1 L633.9,344.6 L634.0,346.9 L634.1,350.3 L634.2,352.6 L634.3,350.5 L634.4,352.2 L634.5,352.3 L634.7,353.0 L634.8,352.9 L634.9,350.4 L635.0,352.3 L635.1,353.8 L635.2,355.6 L635.3,356.4 L635.4,356.8 L635.5,358.4 L635.6,356.4 L635.7,354.8 L635.8,354.1 L635.9,354.0 L636.0,354.0 L636.1,355.4 L636.3,354.0 L636.4,354.5 L636.5,354.3 L636.6,352.4 L636.7,352.8 L636.8,352.6 L636.9,350.8 L637.0,348.2 L637.1,348.6 L637.2,347.0 L637.3,347.4 L637.4,346.5 L637.5,345.6 L637.6,346.4 L637.7,344.7 L637.9,342.4 L638.0,342.2 L638.1,341.7 L638.2,343.2 L638.3,341.9 L638.4,342.8 L638.5,345.1 L638.6,344.9 L638.7,347.2 L638.8,348.4 L638.9,351.1 L639.0,349.6 L639.1,347.6 L639.2,349.0 L639.3,350.3 L639.5,351.5 L639.6,352.5 L639.7,352.2 L639.8,351.1 L639.9,352.9 L640.0,353.0 L640.1,355.5 L640.2,354.2 L640.3,354.8 L640.4,356.2 L640.5,354.1 L640.6,353.7 L640.7,351.7 L640.8,350.3 L640.9,348.3 L641.1,349.2 L641.2,348.9 L641.3,348.2 L641.4,348.2 L641.5,346.1 L641.6,346.8 L641.7,345.3 L641.8,343.6 L641.9,345.6 L642.0,346.2 L642.1,346.6 L642.2,347.7 L642.3,347.7 L642.4,348.4 L642.5,348.9 L642.6,350.0 L642.8,350.6 L642.9,350.6 L643.0,350.4 L643.1,352.0 L643.2,352.8 L643.3,354.2 L643.4,354.9 L643.5,356.9 L643.6,356.2 L643.7,355.0 L643.8,354.6 L643.9,354.8 L644.0,354.6 L644.1,354.6 L644.2,355.4 L644.4,352.6 L644.5,348.4 L644.6,349.7 L644.7,350.6 L644.8,349.4 L644.9,348.5 L645.0,351.0 L645.1,353.6 L645.2,353.2 L645.3,355.8 L645.4,354.3 L645.5,355.3 L645.6,355.5 L645.7,356.0 L645.8,357.1 L646.0,357.6 L646.1,358.4 L646.2,357.4 L646.3,358.2 L646.4,358.9 L646.5,360.1 L646.6,361.4 L646.7,362.6 L646.8,363.0 L646.9,361.4 L647.0,361.0 L647.1,361.7 L647.2,360.9 L647.3,361.0 L647.4,362.0 L647.6,363.4 L647.7,365.4 L647.8,365.7 L647.9,366.7 L648.0,368.9 L648.1,370.5 L648.2,368.4 L648.3,368.6 L648.4,368.6 L648.5,368.9 L648.6,368.8 L648.7,367.5 L648.8,365.6 L648.9,365.4 L649.0,364.2 L649.2,362.5 L649.3,362.6 L649.4,361.8 L649.5,361.9 L649.6,360.5 L649.7,360.5 L649.8,359.6 L649.9,361.1 L650.0,359.7 L650.1,360.7 L650.2,362.2 L650.3,363.6 L650.4,363.2 L650.5,364.5 L650.6,362.4 L650.8,360.9 L650.9,360.5 L651.0,362.2 L651.1,362.0 L651.2,362.6 L651.3,364.2 L651.4,363.2 L651.5,360.3 L651.6,360.8 L651.7,359.7 L651.8,358.3 L651.9,359.4 L652.0,359.7 L652.1,359.2 L652.2,358.5 L652.3,359.6 L652.5,359.1 L652.6,358.9 L652.7,357.6 L652.8,359.2 L652.9,359.4 L653.0,359.4 L653.1,359.2 L653.2,357.9 L653.3,358.2 L653.4,354.8 L653.5,355.5 L653.6,354.5 L653.7,353.4 L653.8,352.5 L653.9,352.9 L654.1,353.9 L654.2,354.1 L654.3,353.2 L654.4,353.6 L654.5,353.8 L654.6,353.9 L654.7,355.8 L654.8,357.4 L654.9,356.4 L655.0,357.6 L655.1,360.0 L655.2,358.3 L655.3,359.9 L655.4,361.5 L655.5,360.8 L655.7,362.6 L655.8,363.2 L655.9,361.3 L656.0,361.5 L656.1,358.1 L656.2,357.7 L656.3,354.6 L656.4,354.6 L656.5,354.5 L656.6,355.2 L656.7,355.2 L656.8,355.4 L656.9,355.0 L657.0,353.7 L657.1,354.8 L657.3,355.1 L657.4,356.7 L657.5,354.0 L657.6,353.3 L657.7,352.7 L657.8,352.0 L657.9,350.3 L658.0,349.5 L658.1,348.2 L658.2,348.1 L658.3,348.3 L658.4,348.3 L658.5,350.3 L658.6,348.8 L658.7,350.3 L658.9,350.9 L659.0,349.7 L659.1,349.2 L659.2,348.1 L659.3,343.5 L659.4,338.7 L659.5,334.8 L659.6,332.7 L659.7,328.0 L659.8,329.0 L659.9,329.0 L660.0,327.8 L660.1,327.9 L660.2,327.8 L660.3,327.9 L660.5,326.1 L660.6,328.5 L660.7,326.5 L660.8,324.9 L660.9,324.6 L661.0,323.7 L661.1,324.4 L661.2,322.7 L661.3,319.1 L661.4,320.2 L661.5,318.5 L661.6,318.6 L661.7,318.9 L661.8,319.2 L661.9,319.0 L662.0,319.9 L662.2,320.7 L662.3,318.0 L662.4,317.4 L662.5,316.4 L662.6,316.6 L662.7,316.7 L662.8,319.0 L662.9,320.3 L663.0,319.8 L663.1,319.1 L663.2,320.9 L663.3,321.8 L663.4,323.2 L663.5,322.6 L663.6,322.5 L663.8,322.8 L663.9,323.8 L664.0,323.7 L664.1,324.1 L664.2,325.2 L664.3,325.1 L664.4,326.2 L664.5,325.4 L664.6,325.1 L664.7,326.4 L664.8,326.2 L664.9,326.6 L665.0,327.9 L665.1,329.3 L665.2,331.3 L665.4,332.0 L665.5,330.5 L665.6,328.2 L665.7,328.2 L665.8,327.3 L665.9,326.2 L666.0,324.7 L666.1,323.8 L666.2,322.0 L666.3,321.0 L666.4,321.7 L666.5,320.9 L666.6,323.7 L666.7,324.1 L666.8,324.2 L667.0,323.8 L667.1,324.5 L667.2,323.9 L667.3,323.0 L667.4,324.5 L667.5,325.6 L667.6,325.7 L667.7,325.6 L667.8,325.9 L667.9,325.6 L668.0,327.5 L668.1,327.0 L668.2,326.3 L668.3,325.8 L668.4,326.2 L668.6,327.3 L668.7,326.7 L668.8,326.3 L668.9,327.4 L669.0,327.2 L669.1,326.3 L669.2,325.9 L669.3,325.9 L669.4,325.0 L669.5,324.2 L669.6,323.0 L669.7,322.0 L669.8,320.7 L669.9,318.7 L670.0,317.7 L670.1,316.5 L670.3,317.1 L670.4,320.5 L670.5,320.9 L670.6,320.3 L670.7,320.9 L670.8,321.9 L670.9,323.4 L671.0,322.6 L671.1,323.5 L671.2,323.5 L671.3,322.7 L671.4,322.7 L671.5,321.0 L671.6,322.3 L671.7,322.3 L671.9,322.6 L672.0,324.5 L672.1,325.4 L672.2,326.9 L672.3,328.8 L672.4,329.1 L672.5,330.5 L672.6,329.2 L672.7,330.9 L672.8,332.1 L672.9,332.6 L673.0,333.7 L673.1,334.2 L673.2,335.4 L673.3,337.4 L673.5,339.4 L673.6,339.5 L673.7,336.5 L673.8,335.0 L673.9,334.0 L674.0,333.8 L674.1,333.1 L674.2,332.0 L674.3,332.8 L674.4,332.7 L674.5,332.7 L674.6,330.3 L674.7,330.6 L674.8,328.5 L674.9,328.3 L675.1,324.7 L675.2,324.6 L675.3,324.2 L675.4,322.7 L675.5,322.6 L675.6,322.5 L675.7,324.6 L675.8,324.1 L675.9,323.1 L676.0,324.3 L676.1,325.7 L676.2,327.7 L676.3,327.1 L676.4,327.5 L676.5,328.1 L676.7,330.1 L676.8,328.7 L676.9,328.5 L677.0,329.3 L677.1,328.4 L677.2,330.3 L677.3,330.0 L677.4,331.9 L677.5,330.9 L677.6,332.0 L677.7,331.3 L677.8,332.6 L677.9,332.8 L678.0,332.3 L678.1,334.1 L678.3,334.6 L678.4,336.1 L678.5,335.3 L678.6,336.2 L678.7,336.7 L678.8,336.9 L678.9,335.6 L679.0,337.0 L679.1,337.0 L679.2,337.3 L679.3,337.9 L679.4,338.5 L679.5,337.2 L679.6,335.6 L679.7,335.9 L679.8,334.1 L680.0,333.9 L680.1,332.3 L680.2,328.3 L680.3,328.3 L680.4,327.1 L680.5,327.1 L680.6,326.1 L680.7,326.9 L680.8,329.0 L680.9,330.7 L681.0,330.1 L681.1,329.7 L681.2,328.4 L681.3,329.2 L681.4,328.5 L681.6,329.9 L681.7,328.5 L681.8,328.9 L681.9,329.9 L682.0,329.8 L682.1,328.1 L682.2,329.5 L682.3,331.2 L682.4,332.3 L682.5,333.5 L682.6,333.3 L682.7,332.8 L682.8,333.0 L682.9,332.7 L683.0,331.5 L683.2,332.1 L683.3,333.7 L683.4,336.2 L683.5,335.6 L683.6,336.1 L683.7,336.1 L683.8,335.4 L683.9,334.9 L684.0,336.6 L684.1,337.4 L684.2,337.1 L684.3,337.0 L684.4,335.7 L684.5,336.3 L684.6,338.6 L684.8,337.1 L684.9,338.8 L685.0,339.6 L685.1,338.9 L685.2,340.2 L685.3,337.7 L685.4,338.1 L685.5,338.3 L685.6,339.6 L685.7,338.0 L685.8,337.5 L685.9,338.0 L686.0,336.2 L686.1,337.8 L686.2,337.8 L686.4,336.7 L686.5,335.9 L686.6,336.3 L686.7,333.8 L686.8,331.7 L686.9,332.4 L687.0,331.5 L687.1,331.7 L687.2,331.5 L687.3,329.8 L687.4,329.1 L687.5,328.8 L687.6,328.5 L687.7,329.6 L687.8,327.9 L687.9,328.6 L688.1,326.9 L688.2,327.3 L688.3,327.6 L688.4,325.7 L688.5,325.5 L688.6,326.2 L688.7,326.6 L688.8,325.7 L688.9,323.5 L689.0,322.9 L689.1,323.5 L689.2,324.8 L689.3,325.3 L689.4,325.1 L689.5,324.5 L689.7,324.9 L689.8,323.1 L689.9,324.0 L690.0,324.4 L690.1,323.5 L690.2,323.6 L690.3,324.7 L690.4,324.2 L690.5,326.5 L690.6,325.3 L690.7,323.7 L690.8,322.8 L690.9,324.1 L691.0,323.3 L691.1,324.2 L691.3,323.3 L691.4,324.2 L691.5,324.5 L691.6,324.3 L691.7,326.6 L691.8,326.8 L691.9,324.9 L692.0,328.3 L692.1,327.5 L692.2,326.2 L692.3,325.8 L692.4,325.5 L692.5,324.0 L692.6,323.8 L692.7,326.0 L692.9,326.8 L693.0,326.7 L693.1,326.1 L693.2,326.3 L693.3,326.0 L693.4,323.8 L693.5,326.9 L693.6,325.0 L693.7,323.7 L693.8,322.9 L693.9,322.8 L694.0,322.7 L694.1,322.2 L694.2,321.9 L694.3,322.7 L694.5,321.6 L694.6,322.5 L694.7,322.3 L694.8,322.5 L694.9,323.4 L695.0,323.0 L695.1,323.5 L695.2,325.2 L695.3,325.5 L695.4,327.2 L695.5,325.8 L695.6,325.6 L695.7,323.3 L695.8,323.7 L695.9,322.6 L696.1,323.4 L696.2,323.9 L696.3,323.4 L696.4,322.3 L696.5,320.8 L696.6,320.7 L696.7,319.1 L696.8,317.8 L696.9,318.6 L697.0,318.4 L697.1,319.0 L697.2,316.6 L697.3,316.9 L697.4,315.6 L697.5,314.3 L697.6,314.4 L697.8,314.7 L697.9,313.9 L698.0,314.4 L698.1,315.3 L698.2,315.6 L698.3,314.4 L698.4,313.4 L698.5,310.9 L698.6,312.4 L698.7,311.2 L698.8,311.8 L698.9,309.7 L699.0,308.4 L699.1,307.8 L699.2,305.8 L699.4,306.0 L699.5,306.2 L699.6,306.9 L699.7,306.9 L699.8,306.1 L699.9,304.6 L700.0,302.7 L700.1,302.6 L700.2,303.0 L700.3,302.9 L700.4,303.6 L700.5,304.2 L700.6,304.7 L700.7,305.7 L700.8,305.7 L701.0,306.2 L701.1,306.3 L701.2,307.7 L701.3,307.3 L701.4,306.6 L701.5,305.9 L701.6,306.7 L701.7,308.0 L701.8,309.3 L701.9,310.3 L702.0,310.7 L702.1,310.6 L702.2,312.2 L702.3,310.9 L702.4,312.3 L702.6,312.6 L702.7,312.9 L702.8,311.5 L702.9,309.3 L703.0,309.9 L703.1,310.3 L703.2,310.8 L703.3,311.1 L703.4,311.4 L703.5,308.8 L703.6,310.5 L703.7,310.9 L703.8,312.0 L703.9,311.7 L704.0,311.7 L704.2,310.3 L704.3,310.8 L704.4,307.6 L704.5,306.9 L704.6,308.3 L704.7,306.8 L704.8,306.6 L704.9,307.1 L705.0,305.7 L705.1,305.4 L705.2,303.7 L705.3,303.6 L705.4,301.8 L705.5,301.0 L705.6,300.0 L705.8,299.3 L705.9,299.1 L706.0,298.9 L706.1,298.1 L706.2,297.2 L706.3,297.6 L706.4,295.1 L706.5,293.6 L706.6,295.3 L706.7,294.3 L706.8,294.7 L706.9,294.6 L707.0,295.7 L707.1,293.9 L707.2,295.0 L707.3,295.1 L707.5,295.9 L707.6,293.7 L707.7,292.5 L707.8,294.2 L707.9,294.7 L708.0,295.0 L708.1,297.1 L708.2,299.0 L708.3,301.6 L708.4,302.6 L708.5,305.1 L708.6,305.4 L708.7,304.3 L708.8,306.4 L708.9,306.3 L709.1,306.5 L709.2,306.9 L709.3,306.8 L709.4,307.2 L709.5,306.3 L709.6,304.8 L709.7,303.1 L709.8,302.9 L709.9,303.6 L710.0,302.8 L710.1,300.3 L710.2,299.4 L710.3,299.8 L710.4,302.6 L710.5,303.2 L710.7,302.8 L710.8,304.0 L710.9,302.7 L711.0,303.7 L711.1,304.9 L711.2,305.6 L711.3,305.8 L711.4,304.8 L711.5,305.8 L711.6,307.9 L711.7,307.9 L711.8,307.3 L711.9,305.9 L712.0,307.5 L712.1,306.2 L712.3,306.0 L712.4,305.7 L712.5,306.4 L712.6,307.1 L712.7,307.6 L712.8,306.1 L712.9,305.5 L713.0,304.0 L713.1,301.9 L713.2,302.0 L713.3,302.0 L713.4,300.0 L713.5,301.6 L713.6,302.0 L713.7,302.2 L713.9,302.3 L714.0,301.7 L714.1,302.3 L714.2,300.5 L714.3,301.7 L714.4,302.0 L714.5,303.2 L714.6,304.3 L714.7,303.5 L714.8,302.8 L714.9,303.2 L715.0,302.5 L715.1,302.2 L715.2,303.3 L715.3,303.7 L715.4,303.7 L715.6,302.0 L715.7,303.3 L715.8,303.6 L715.9,303.7 L716.0,303.1 L716.1,303.6 L716.2,303.4 L716.3,305.5 L716.4,306.2 L716.5,308.0 L716.6,307.4 L716.7,304.4 L716.8,304.0 L716.9,303.7 L717.0,303.3 L717.2,302.9 L717.3,304.1 L717.4,304.4 L717.5,304.0 L717.6,303.2 L717.7,303.6 L717.8,303.0 L717.9,303.2 L718.0,303.8 L718.1,303.6 L718.2,303.5 L718.3,301.6 L718.4,299.5 L718.5,298.4 L718.6,298.2 L718.8,298.4 L718.9,299.5 L719.0,299.3 L719.1,296.8 L719.2,295.1 L719.3,294.6 L719.4,294.4 L719.5,293.8 L719.6,292.8 L719.7,292.3 L719.8,291.3 L719.9,291.7 L720.0,291.0 L720.1,290.7 L720.2,289.2 L720.4,291.1 L720.5,290.0 L720.6,290.6 L720.7,291.6 L720.8,292.0 L720.9,292.2 L721.0,292.9 L721.1,292.8 L721.2,293.8 L721.3,295.9 L721.4,295.2 L721.5,295.5 L721.6,293.9 L721.7,294.1 L721.8,296.8 L722.0,295.7 L722.1,296.8 L722.2,295.4 L722.3,292.5 L722.4,291.1 L722.5,292.1 L722.6,291.8 L722.7,293.0 L722.8,291.5 L722.9,290.3 L723.0,290.8 L723.1,289.6 L723.2,289.0 L723.3,288.9 L723.4,290.4 L723.6,291.7 L723.7,293.4 L723.8,295.1 L723.9,295.0 L724.0,295.2 L724.1,294.1 L724.2,294.4 L724.3,295.3 L724.4,297.4 L724.5,296.1 L724.6,296.5 L724.7,297.1 L724.8,298.8 L724.9,300.3 L725.0,299.9 L725.1,301.3 L725.3,301.0 L725.4,300.7 L725.5,301.9 L725.6,304.2 L725.7,304.2 L725.8,303.2 L725.9,304.9 L726.0,306.8 L726.1,306.1 L726.2,306.6 L726.3,308.0 L726.4,307.3 L726.5,308.4 L726.6,308.7 L726.7,310.0 L726.9,311.5 L727.0,311.9 L727.1,313.4 L727.2,315.8 L727.3,316.7 L727.4,315.6 L727.5,315.0 L727.6,313.5 L727.7,313.5 L727.8,313.0 L727.9,314.2 L728.0,316.0 L728.1,315.1 L728.2,315.8 L728.3,314.4 L728.5,314.4 L728.6,313.5 L728.7,313.8 L728.8,313.2 L728.9,311.3 L729.0,310.9 L729.1,310.9 L729.2,309.8 L729.3,308.1 L729.4,308.2 L729.5,309.6 L729.6,311.1 L729.7,312.2 L729.8,310.7 L729.9,310.5 L730.1,309.8 L730.2,308.6 L730.3,308.4 L730.4,308.1 L730.5,308.8 L730.6,310.6 L730.7,309.8 L730.8,309.9 L730.9,309.2 L731.0,310.4 L731.1,310.4 L731.2,308.2 L731.3,309.3 L731.4,309.3 L731.5,308.0 L731.7,308.5 L731.8,308.6 L731.9,311.1 L732.0,310.1 L732.1,310.5 L732.2,309.1 L732.3,309.4 L732.4,309.9 L732.5,309.4 L732.6,309.8 L732.7,310.4 L732.8,308.8 L732.9,308.0 L733.0,308.2 L733.1,307.7 L733.2,307.7 L733.4,308.3 L733.5,309.5 L733.6,310.6 L733.7,311.3 L733.8,311.8 L733.9,312.6 L734.0,314.3 L734.1,315.4 L734.2,315.8 L734.3,317.8 L734.4,318.6 L734.5,318.6 L734.6,319.3 L734.7,320.5 L734.8,321.4 L735.0,322.7 L735.1,322.4 L735.2,323.6 L735.3,326.2 L735.4,327.9 L735.5,327.6 L735.6,326.6 L735.7,326.4 L735.8,327.0 L735.9,326.2 L736.0,326.2 L736.1,325.9 L736.2,324.9 L736.3,324.8 L736.4,323.5 L736.6,323.4 L736.7,322.9 L736.8,322.2 L736.9,319.8 L737.0,317.6 L737.1,316.3 L737.2,316.8 L737.3,317.0 L737.4,316.7 L737.5,316.6 L737.6,319.2 L737.7,319.8 L737.8,321.1 L737.9,320.7 L738.0,320.6 L738.2,321.8 L738.3,320.1 L738.4,321.3 L738.5,319.5 L738.6,320.9 L738.7,322.0 L738.8,321.0 L738.9,322.7 L739.0,324.2 L739.1,323.5 L739.2,324.6 L739.3,325.0 L739.4,327.3 L739.5,326.1 L739.6,326.0 L739.8,326.7 L739.9,327.0 L740.0,328.6 L740.1,330.0 L740.2,332.4 L740.3,332.5 L740.4,331.7 L740.5,331.6 L740.6,331.5 L740.7,331.7 L740.8,333.6 L740.9,335.7 L741.0,335.6 L741.1,336.0 L741.2,335.5 L741.4,336.4 L741.5,337.8 L741.6,337.7 L741.7,338.7 L741.8,340.7 L741.9,341.4 L742.0,342.3 L742.1,343.4 L742.2,343.7 L742.3,342.5 L742.4,340.1 L742.5,338.8 L742.6,340.0 L742.7,339.4 L742.8,340.2 L742.9,339.9 L743.1,340.7 L743.2,340.7 L743.3,342.3 L743.4,340.0 L743.5,340.7 L743.6,339.8 L743.7,340.3 L743.8,339.7 L743.9,340.7 L744.0,340.7 L744.1,339.3 L744.2,338.4 L744.3,340.2 L744.4,338.9 L744.5,339.9 L744.7,339.1 L744.8,338.1 L744.9,339.0 L745.0,339.7 L745.1,340.4 L745.2,340.4 L745.3,339.9 L745.4,339.2 L745.5,339.7 L745.6,338.5 L745.7,340.7 L745.8,339.8 L745.9,341.2 L746.0,341.4 L746.1,342.7 L746.3,343.5 L746.4,345.4 L746.5,345.8 L746.6,344.9 L746.7,346.7 L746.8,348.5 L746.9,350.3 L747.0,351.3 L747.1,353.3 L747.2,355.0 L747.3,356.4 L747.4,356.7 L747.5,357.5 L747.6,360.6 L747.7,362.7 L747.9,362.9 L748.0,362.3 L748.1,361.6 L748.2,362.3 L748.3,360.5 L748.4,361.4 L748.5,360.5 L748.6,359.8 L748.7,359.0 L748.8,359.8 L748.9,360.2 L749.0,362.6 L749.1,365.0 L749.2,365.8 L749.3,365.1 L749.5,361.9 L749.6,359.9 L749.7,356.8 L749.8,354.3 L749.9,350.8 L750.0,350.8 L750.1,349.6 L750.2,348.4 L750.3,349.4 L750.4,348.1 L750.5,349.8 L750.6,351.3 L750.7,352.2 L750.8,351.8 L750.9,352.9 L751.0,352.7 L751.2,352.9 L751.3,354.4 L751.4,357.5 L751.5,358.9 L751.6,360.4 L751.7,358.8 L751.8,360.0 L751.9,361.5 L752.0,361.4 L752.1,361.8 L752.2,363.2 L752.3,362.5 L752.4,362.1 L752.5,361.4 L752.6,361.5 L752.8,361.7 L752.9,362.9 L753.0,361.3 L753.1,359.9 L753.2,359.9 L753.3,358.9 L753.4,354.5 L753.5,355.2 L753.6,356.4 L753.7,354.9 L753.8,354.6 L753.9,354.2 L754.0,352.7 L754.1,352.1 L754.2,350.3 L754.4,349.1 L754.5,347.4 L754.6,346.9 L754.7,348.8 L754.8,346.6 L754.9,347.9 L755.0,345.9 L755.1,345.0 L755.2,346.8 L755.3,347.0 L755.4,346.4 L755.5,348.0 L755.6,348.3 L755.7,349.4 L755.8,350.6 L756.0,351.4 L756.1,350.1 L756.2,349.7 L756.3,350.2 L756.4,350.8 L756.5,351.1 L756.6,351.2 L756.7,351.6 L756.8,353.9 L756.9,353.2 L757.0,354.5 L757.1,357.4 L757.2,356.6 L757.3,357.9 L757.4,357.2 L757.6,356.5 L757.7,356.3 L757.8,355.0 L757.9,354.6 L758.0,354.3 L758.1,354.6 L758.2,354.1 L758.3,354.5 L758.4,353.6 L758.5,351.4 L758.6,349.9 L758.7,349.1 L758.8,350.3 L758.9,348.7 L759.0,347.5 L759.2,345.1 L759.3,347.6 L759.4,347.3 L759.5,347.3 L759.6,345.8 L759.7,346.7 L759.8,346.7 L759.9,344.5 L760.0,344.0 L760.1,346.7 L760.2,347.0 L760.3,345.9 L760.4,347.1 L760.5,346.8 L760.6,347.1 L760.7,349.1 L760.9,349.9 L761.0,348.8 L761.1,347.8 L761.2,348.9 L761.3,348.6 L761.4,350.8 L761.5,351.9 L761.6,353.2 L761.7,355.9 L761.8,356.7 L761.9,358.3 L762.0,362.2 L762.1,363.8 L762.2,365.3 L762.3,366.7 L762.5,368.3 L762.6,367.8 L762.7,369.1 L762.8,366.7 L762.9,365.4 L763.0,364.0 L763.1,363.4 L763.2,362.4 L763.3,361.8 L763.4,362.1 L763.5,364.0 L763.6,364.9 L763.7,364.9 L763.8,366.0 L763.9,365.8 L764.1,368.9 L764.2,370.6 L764.3,372.7 L764.4,372.8 L764.5,372.6 L764.6,375.0 L764.7,376.0 L764.8,378.1 L764.9,381.4 L765.0,384.2 L765.1,388.0 L765.2,388.9 L765.3,391.0 L765.4,392.7 L765.5,395.4 L765.7,400.9 L765.8,402.6 L765.9,404.9 L766.0,403.7 L766.1,399.5 L766.2,394.5 L766.3,388.9 L766.4,386.5 L766.5,382.0 L766.6,378.1 L766.7,378.7 L766.8,381.3 L766.9,383.0 L767.0,384.7 L767.1,386.4 L767.3,389.3 L767.4,393.0 L767.5,393.7 L767.6,394.7 L767.7,397.8 L767.8,400.2 L767.9,400.4 L768.0,402.5 L768.1,402.1 L768.2,399.7 L768.3,400.0 L768.4,401.2 L768.5,399.4 L768.6,400.0 L768.7,400.3 L768.9,401.3 L769.0,401.5 L769.1,403.7 L769.2,405.0 L769.3,406.4 L769.4,405.1 L769.5,405.0 L769.6,403.6 L769.7,405.3 L769.8,405.2 L769.9,403.0 L770.0,403.3 L770.1,404.7 L770.2,404.6 L770.3,404.0 L770.4,403.2 L770.6,401.0 L770.7,399.1 L770.8,397.2 L770.9,396.6 L771.0,397.1 L771.1,397.5 L771.2,398.7 L771.3,396.9 L771.4,395.3 L771.5,395.1 L771.6,395.9 L771.7,394.9 L771.8,394.2 L771.9,393.8 L772.0,394.9 L772.2,394.2 L772.3,394.4 L772.4,393.2 L772.5,392.3 L772.6,391.6 L772.7,391.9 L772.8,390.0 L772.9,389.1 L773.0,387.8 L773.1,387.1 L773.2,386.7 L773.3,386.5 L773.4,387.8 L773.5,390.0 L773.6,391.5 L773.8,391.3 L773.9,390.9 L774.0,391.4 L774.1,392.0 L774.2,390.8 L774.3,392.2 L774.4,394.9 L774.5,397.0 L774.6,397.6 L774.7,397.2 L774.8,396.8 L774.9,397.7 L775.0,397.4 L775.1,398.1 L775.2,399.5 L775.4,400.4 L775.5,400.1 L775.6,399.7 L775.7,401.4 L775.8,402.6 L775.9,402.5 L776.0,400.3 L776.1,401.9 L776.2,403.4 L776.3,402.9 L776.4,402.5 L776.5,403.3 L776.6,403.4 L776.7,403.0 L776.8,405.0 L777.0,404.9 L777.1,404.2 L777.2,403.3 L777.3,402.3 L777.4,402.8 L777.5,404.7 L777.6,403.4 L777.7,402.9 L777.8,404.0 L777.9,403.2 L778.0,402.6 L778.1,403.3 L778.2,406.2 L778.3,406.8 L778.4,407.5 L778.5,408.3 L778.7,408.2 L778.8,409.1 L778.9,407.7 L779.0,404.9 L779.1,405.7 L779.2,403.9 L779.3,404.0 L779.4,402.9 L779.5,402.6 L779.6,400.8 L779.7,401.2 L779.8,400.0 L779.9,400.5 L780.0,399.8 L780.1,399.4 L780.3,397.8 L780.4,399.1 L780.5,400.0 L780.6,397.8 L780.7,396.9 L780.8,394.8 L780.9,396.3 L781.0,396.3 L781.1,395.9 L781.2,394.4 L781.3,395.0 L781.4,395.9 L781.5,395.5 L781.6,396.0 L781.7,397.2 L781.9,396.6 L782.0,398.9 L782.1,399.8 L782.2,398.2 L782.3,398.8 L782.4,399.1 L782.5,398.7 L782.6,397.6 L782.7,397.3 L782.8,398.6 L782.9,399.3 L783.0,398.2 L783.1,398.5 L783.2,399.3 L783.3,398.5 L783.5,397.5 L783.6,395.6 L783.7,397.4 L783.8,398.2 L783.9,398.7 L784.0,397.9 L784.1,398.1 L784.2,396.6 L784.3,399.2 L784.4,397.5 L784.5,397.7 L784.6,397.4 L784.7,396.2 L784.8,395.5 L784.9,396.1 L785.1,394.0 L785.2,393.1 L785.3,393.4 L785.4,392.9 L785.5,393.7 L785.6,394.5 L785.7,394.1 L785.8,393.0 L785.9,392.4 L786.0,392.6 L786.1,393.4 L786.2,394.4 L786.3,391.7 L786.4,390.6 L786.5,390.9 L786.7,389.0 L786.8,388.0 L786.9,388.1 L787.0,388.3 L787.1,386.7 L787.2,386.0 L787.3,384.2 L787.4,384.6 L787.5,386.0 L787.6,387.2 L787.7,388.4 L787.8,388.4 L787.9,388.5 L788.0,388.3 L788.1,388.4 L788.2,390.0 L788.4,390.6 L788.5,391.9 L788.6,391.5 L788.7,393.2 L788.8,393.9 L788.9,394.8 L789.0,395.4 L789.1,395.1 L789.2,393.0 L789.3,393.0 L789.4,394.2 L789.5,394.0 L789.6,392.7 L789.7,391.8 L789.8,391.4 L790.0,389.2 L790.1,388.2 L790.2,388.4 L790.3,387.4 L790.4,389.2 L790.5,389.4 L790.6,390.4 L790.7,390.0 L790.8,388.2 L790.9,388.9 L791.0,387.3 L791.1,388.6 L791.2,387.1 L791.3,389.1 L791.4,389.9 L791.6,388.6 L791.7,388.6 L791.8,388.3 L791.9,387.4 L792.0,386.3 L792.1,385.5 L792.2,385.6 L792.3,384.7 L792.4,383.4 L792.5,383.2 L792.6,381.5 L792.7,378.5 L792.8,380.3 L792.9,381.1 L793.0,381.6 L793.2,381.7 L793.3,381.8 L793.4,382.8 L793.5,383.0 L793.6,383.2 L793.7,383.5 L793.8,382.1 L793.9,382.5 L794.0,384.6 L794.1,386.1 L794.2,384.2 L794.3,383.4 L794.4,382.9 L794.5,383.1 L794.6,382.0 L794.8,380.7 L794.9,380.1 L795.0,379.1 L795.1,376.8 L795.2,374.9 L795.3,373.4 L795.4,372.7 L795.5,373.1 L795.6,371.2 L795.7,368.7 L795.8,366.7 L795.9,364.9 L796.0,364.2 L796.1,363.4 L796.2,363.0 L796.3,361.1 L796.5,361.0 L796.6,358.3 L796.7,357.8 L796.8,358.6 L796.9,358.8 L797.0,360.7 L797.1,361.3 L797.2,361.3 L797.3,358.4 L797.4,359.3 L797.5,358.2 L797.6,358.1 L797.7,358.4 L797.8,357.6 L797.9,359.6 L798.1,358.3 L798.2,356.0 L798.3,355.8 L798.4,355.9 L798.5,355.7 L798.6,355.0 L798.7,355.6 L798.8,355.4 L798.9,354.7 L799.0,355.1 L799.1,354.5 L799.2,354.1 L799.3,353.3 L799.4,354.3 L799.5,354.6 L799.7,354.8 L799.8,353.2 L799.9,353.7 L800.0,356.2 L800.1,358.0 L800.2,356.3 L800.3,356.7 L800.4,358.7 L800.5,360.2 L800.6,360.4 L800.7,359.4 L800.8,358.4 L800.9,359.8 L801.0,360.8 L801.1,358.7 L801.3,359.9 L801.4,358.2 L801.5,358.1 L801.6,358.1 L801.7,356.9 L801.8,356.7 L801.9,357.8 L802.0,359.5 L802.1,359.2 L802.2,358.4 L802.3,356.8 L802.4,359.6 L802.5,357.8 L802.6,357.0 L802.7,355.3 L802.9,354.6 L803.0,354.6 L803.1,354.3 L803.2,354.1 L803.3,354.9 L803.4,355.0 L803.5,355.2 L803.6,356.3 L803.7,358.4 L803.8,360.1 L803.9,359.6 L804.0,359.3 L804.1,359.5 L804.2,361.1 L804.3,360.4 L804.5,361.1 L804.6,363.6 L804.7,362.0 L804.8,363.9 L804.9,361.6 L805.0,361.6 L805.1,362.6 L805.2,365.6 L805.3,366.4 L805.4,364.9 L805.5,363.8 L805.6,364.1 L805.7,366.5 L805.8,367.2 L805.9,367.7 L806.0,367.0 L806.2,367.0 L806.3,366.5 L806.4,368.2 L806.5,368.6 L806.6,366.7 L806.7,368.2 L806.8,367.0 L806.9,364.5 L807.0,364.1 L807.1,365.9 L807.2,364.7 L807.3,366.9 L807.4,366.5 L807.5,366.9 L807.6,365.5 L807.8,365.0 L807.9,365.8 L808.0,364.9 L808.1,365.2 L808.2,367.0 L808.3,369.1 L808.4,367.5 L808.5,369.2 L808.6,369.9 L808.7,371.1 L808.8,372.7 L808.9,375.2 L809.0,376.0 L809.1,376.7 L809.2,376.3 L809.4,377.6 L809.5,379.3 L809.6,380.1 L809.7,379.7 L809.8,379.1 L809.9,378.1 L810.0,378.4 L810.1,377.7 L810.2,377.6 L810.3,375.8 L810.4,376.1 L810.5,376.2 L810.6,375.8 L810.7,374.8 L810.8,375.8 L811.0,376.2 L811.1,376.2 L811.2,378.1 L811.3,376.1 L811.4,374.5 L811.5,374.3 L811.6,370.5 L811.7,369.5 L811.8,367.8 L811.9,366.8 L812.0,366.6 L812.1,368.8 L812.2,367.5 L812.3,367.5 L812.4,369.1 L812.6,369.1 L812.7,368.4 L812.8,367.9 L812.9,368.2 L813.0,369.3 L813.1,368.8 L813.2,370.1 L813.3,370.4 L813.4,369.8 L813.5,371.6 L813.6,371.2 L813.7,373.3 L813.8,374.0 L813.9,375.0 L814.0,374.6 L814.2,373.4 L814.3,373.2 L814.4,372.0 L814.5,371.9 L814.6,372.2 L814.7,371.6 L814.8,372.0 L814.9,371.9 L815.0,370.6 L815.1,370.7 L815.2,368.9 L815.3,369.7 L815.4,369.3 L815.5,370.4 L815.6,370.0 L815.7,367.4 L815.9,366.4 L816.0,364.5 L816.1,365.6 L816.2,366.0 L816.3,364.6 L816.4,363.1 L816.5,361.6 L816.6,362.9 L816.7,361.6 L816.8,361.0 L816.9,360.2 L817.0,359.1 L817.1,358.8 L817.2,360.0 L817.3,360.2 L817.5,360.6 L817.6,361.0 L817.7,361.1 L817.8,359.7 L817.9,360.8 L818.0,361.9 L818.1,363.2 L818.2,365.1 L818.3,364.9 L818.4,365.4 L818.5,365.7 L818.6,366.8 L818.7,366.3 L818.8,367.7 L818.9,367.2 L819.1,368.1 L819.2,367.4 L819.3,367.3 L819.4,365.7 L819.5,364.3 L819.6,363.4 L819.7,360.8 L819.8,360.1 L819.9,360.4 L820.0,358.9 L820.1,359.1 L820.2,358.8 L820.3,357.9 L820.4,358.2 L820.5,357.9 L820.7,361.6 L820.8,363.4 L820.9,363.7 L821.0,365.6 L821.1,366.9 L821.2,367.0 L821.3,370.2 L821.4,370.0 L821.5,369.0 L821.6,369.6 L821.7,371.2 L821.8,371.7 L821.9,370.9 L822.0,370.2 L822.1,367.9 L822.3,366.4 L822.4,368.1 L822.5,366.8 L822.6,365.8 L822.7,364.1 L822.8,364.6 L822.9,364.8 L823.0,364.1 L823.1,361.9 L823.2,360.9 L823.3,358.8 L823.4,357.9 L823.5,358.4 L823.6,359.2 L823.7,356.7 L823.8,358.0 L824.0,357.7 L824.1,357.3 L824.2,357.5 L824.3,357.2 L824.4,356.2 L824.5,352.7 L824.6,352.2 L824.7,352.2 L824.8,351.3 L824.9,349.6 L825.0,349.9 L825.1,349.6 L825.2,350.6 L825.3,349.0 L825.4,347.8 L825.6,345.9 L825.7,347.1 L825.8,344.5 L825.9,343.6 L826.0,344.0 L826.1,344.4 L826.2,344.6 L826.3,345.7 L826.4,344.4 L826.5,344.8 L826.6,345.1 L826.7,344.0 L826.8,343.5 L826.9,343.8 L827.0,343.6 L827.2,343.6 L827.3,341.6 L827.4,340.3 L827.5,340.9 L827.6,340.7 L827.7,339.1 L827.8,340.8 L827.9,340.1 L828.0,341.2 L828.1,342.0 L828.2,345.7 L828.3,345.9 L828.4,346.8 L828.5,347.4 L828.6,348.3 L828.8,349.1 L828.9,351.0 L829.0,351.3 L829.1,352.7 L829.2,353.3 L829.3,352.8 L829.4,350.9 L829.5,348.8 L829.6,349.4 L829.7,349.6 L829.8,346.2 L829.9,344.2 L830.0,339.2 L830.1,339.4 L830.2,337.9 L830.4,336.8 L830.5,334.4 L830.6,331.2 L830.7,328.0 L830.8,327.8 L830.9,325.1 L831.0,325.1 L831.1,323.2 L831.2,321.5 L831.3,320.0 L831.4,320.0 L831.5,317.7 L831.6,317.1 L831.7,316.4 L831.8,315.9 L832.0,316.1 L832.1,314.3 L832.2,313.1 L832.3,311.7 L832.4,309.0 L832.5,309.4 L832.6,308.9 L832.7,308.1 L832.8,306.3 L832.9,305.8 L833.0,304.1 L833.1,302.9 L833.2,304.1 L833.3,303.9 L833.4,305.2 L833.5,304.5 L833.7,303.9 L833.8,302.3 L833.9,301.3 L834.0,300.6 L834.1,298.6 L834.2,297.5 L834.3,298.3 L834.4,298.4 L834.5,297.3 L834.6,294.9 L834.7,294.7 L834.8,294.5 L834.9,294.5 L835.0,294.9 L835.1,296.2 L835.3,297.1 L835.4,298.7 L835.5,300.4 L835.6,302.3 L835.7,302.5 L835.8,304.0 L835.9,304.4 L836.0,305.0 L836.1,305.1 L836.2,309.1 L836.3,310.9 L836.4,312.8 L836.5,313.4 L836.6,310.4 L836.7,305.5 L836.9,302.1 L837.0,299.2 L837.1,297.4 L837.2,296.3 L837.3,294.2 L837.4,294.9 L837.5,291.9 L837.6,290.1 L837.7,287.6 L837.8,286.9 L837.9,286.1 L838.0,284.6 L838.1,282.4 L838.2,279.8 L838.3,281.5 L838.5,282.6 L838.6,283.4 L838.7,286.3 L838.8,287.9 L838.9,291.0 L839.0,292.8 L839.1,293.1 L839.2,295.3 L839.3,294.7 L839.4,295.9 L839.5,296.7 L839.6,298.5 L839.7,299.5 L839.8,300.3 L839.9,302.3 L840.1,304.9 L840.2,306.5 L840.3,303.9 L840.4,303.8 L840.5,303.8 L840.6,304.0 L840.7,305.0 L840.8,304.5 L840.9,303.1 L841.0,302.7 L841.1,302.5 L841.2,301.0 L841.3,299.5 L841.4,299.2 L841.5,300.7 L841.6,303.7 L841.8,304.6 L841.9,307.6 L842.0,309.7 L842.1,311.4 L842.2,313.6 L842.3,316.6 L842.4,316.1 L842.5,314.6 L842.6,315.8 L842.7,314.7 L842.8,315.0 L842.9,313.5 L843.0,313.8 L843.1,311.9 L843.2,310.2 L843.4,307.3 L843.5,305.4 L843.6,305.3 L843.7,303.6 L843.8,303.5 L843.9,302.9 L844.0,302.6 L844.1,303.6 L844.2,301.8 L844.3,302.8 L844.4,301.7 L844.5,299.8 L844.6,298.5 L844.7,299.0 L844.8,298.3 L845.0,296.2 L845.1,293.8 L845.2,290.5 L845.3,291.0 L845.4,288.8 L845.5,287.6 L845.6,285.1 L845.7,285.3 L845.8,283.6 L845.9,281.0 L846.0,280.0 L846.1,278.6 L846.2,277.8 L846.3,274.6 L846.4,274.3 L846.6,273.4 L846.7,271.7 L846.8,270.0 L846.9,265.8 L847.0,263.9 L847.1,263.2 L847.2,260.9 L847.3,259.0 L847.4,258.2 L847.5,260.9 L847.6,262.9 L847.7,266.8 L847.8,270.4 L847.9,273.1 L848.0,275.7 L848.2,272.9 L848.3,269.0 L848.4,266.1 L848.5,264.3 L848.6,262.7 L848.7,262.1 L848.8,262.0 L848.9,259.7 L849.0,259.6 L849.1,257.4 L849.2,255.8 L849.3,253.2 L849.4,251.5 L849.5,249.8 L849.6,248.8 L849.8,248.9 L849.9,249.3 L850.0,249.3 L850.1,249.1 L850.2,248.8 L850.3,251.2 L850.4,253.3 L850.5,253.5 L850.6,255.1 L850.7,253.5 L850.8,254.6 L850.9,257.7 L851.0,259.4 L851.1,258.8 L851.2,262.1 L851.3,262.9 L851.5,265.4 L851.6,264.5 L851.7,266.1 L851.8,268.0 L851.9,270.4 L852.0,271.6 L852.1,274.6 L852.2,275.1 L852.3,272.9 L852.4,273.4 L852.5,274.3 L852.6,276.2 L852.7,276.3 L852.8,277.4 L852.9,278.9 L853.1,277.9 L853.2,278.2 L853.3,280.0 L853.4,279.2 L853.5,280.2 L853.6,280.7 L853.7,280.2 L853.8,278.1 L853.9,276.7 L854.0,276.4 L854.1,274.9 L854.2,274.6 L854.3,273.6 L854.4,271.0 L854.5,271.6 L854.7,271.8 L854.8,271.2 L854.9,270.6 L855.0,268.0 L855.1,268.7 L855.2,265.1 L855.3,262.6 L855.4,262.5 L855.5,261.6 L855.6,261.2 L855.7,261.6 L855.8,262.7 L855.9,263.6 L856.0,264.7 L856.1,264.6 L856.3,266.9 L856.4,268.2 L856.5,270.5 L856.6,272.3 L856.7,274.0 L856.8,275.8 L856.9,277.2 L857.0,279.9 L857.1,281.6 L857.2,283.8 L857.3,285.4 L857.4,285.8 L857.5,285.9 L857.6,285.6 L857.7,286.8 L857.9,286.4 L858.0,287.0 L858.1,287.2 L858.2,286.2 L858.3,284.5 L858.4,283.8 L858.5,284.1 L858.6,283.3 L858.7,280.5 L858.8,281.1 L858.9,278.4 L859.0,278.8 L859.1,278.0 L859.2,276.5 L859.3,275.3 L859.4,272.1 L859.6,270.5 L859.7,269.5 L859.8,267.4 L859.9,266.5 L860.0,266.3 L860.1,264.0 L860.2,261.5 L860.3,259.5 L860.4,260.1 L860.5,257.2 L860.6,257.1 L860.7,255.5 L860.8,253.6 L860.9,250.5 L861.0,251.9 L861.2,252.3 L861.3,252.5 L861.4,254.0 L861.5,256.4 L861.6,261.4 L861.7,262.4 L861.8,264.1 L861.9,268.4 L862.0,266.7 L862.1,270.9 L862.2,272.7 L862.3,273.9 L862.4,275.0 L862.5,275.6 L862.6,277.4 L862.8,279.8 L862.9,281.6 L863.0,285.2 L863.1,287.4 L863.2,285.4 L863.3,286.2 L863.4,286.3 L863.5,284.3 L863.6,283.7 L863.7,284.1 L863.8,283.9 L863.9,284.8 L864.0,286.3 L864.1,285.7 L864.2,285.6 L864.4,283.6 L864.5,283.8 L864.6,284.0 L864.7,283.3 L864.8,283.2 L864.9,283.1 L865.0,283.6 L865.1,282.8 L865.2,281.9 L865.3,279.5 L865.4,279.3 L865.5,280.9 L865.6,279.9 L865.7,277.0 L865.8,277.3 L866.0,277.9 L866.1,277.7 L866.2,280.2 L866.3,279.6 L866.4,278.8 L866.5,279.5 L866.6,277.8 L866.7,277.8 L866.8,278.8 L866.9,278.3 L867.0,276.4 L867.1,273.4 L867.2,271.4 L867.3,270.9 L867.4,271.0 L867.6,270.8 L867.7,269.3 L867.8,269.4 L867.9,268.5 L868.0,267.1 L868.1,267.8 L868.2,267.9 L868.3,266.9 L868.4,266.4 L868.5,266.0 L868.6,266.3 L868.7,268.2 L868.8,268.1 L868.9,268.8 L869.0,272.9 L869.1,273.2 L869.3,272.5 L869.4,271.9 L869.5,272.8 L869.6,272.1 L869.7,271.1 L869.8,271.1 L869.9,269.9 L870.0,271.7 L870.1,272.1 L870.2,270.6 L870.3,269.0 L870.4,268.1 L870.5,267.6 L870.6,266.3 L870.7,264.2 L870.9,262.6 L871.0,262.1 L871.1,262.0 L871.2,260.2 L871.3,259.1 L871.4,257.8 L871.5,257.7 L871.6,258.2 L871.7,257.4 L871.8,257.5 L871.9,255.6 L872.0,254.2 L872.1,256.1 L872.2,254.6 L872.3,254.0 L872.5,254.5 L872.6,256.7 L872.7,259.1 L872.8,259.5 L872.9,260.0 L873.0,261.6 L873.1,264.5 L873.2,267.5 L873.3,268.3 L873.4,268.5 L873.5,268.0 L873.6,266.3 L873.7,264.0 L873.8,265.2 L873.9,264.7 L874.1,261.9 L874.2,260.9 L874.3,260.2 L874.4,258.5 L874.5,258.7 L874.6,258.8 L874.7,257.5 L874.8,254.6 L874.9,252.6 L875.0,251.8 L875.1,249.9 L875.2,249.7 L875.3,250.1 L875.4,250.9 L875.5,249.3 L875.7,247.2 L875.8,245.8 L875.9,245.0 L876.0,244.5 L876.1,242.3 L876.2,241.9 L876.3,244.3 L876.4,243.5 L876.5,245.1 L876.6,245.5 L876.7,246.3 L876.8,246.1 L876.9,246.8 L877.0,246.5 L877.1,246.4 L877.3,246.4 L877.4,246.3 L877.5,244.9 L877.6,245.1 L877.7,243.3 L877.8,242.9 L877.9,243.1 L878.0,243.1 L878.1,242.2 L878.2,239.2 L878.3,237.7 L878.4,237.1 L878.5,237.4 L878.6,234.5 L878.7,234.3 L878.8,233.7 L879.0,233.5 L879.1,231.3 L879.2,230.5 L879.3,230.5 L879.4,229.6 L879.5,229.9 L879.6,230.1 L879.7,229.2 L879.8,231.2 L879.9,228.5 L880.0,225.2 L880.1,225.5 L880.2,224.7 L880.3,225.3 L880.4,223.9 L880.6,222.5 L880.7,220.6 L880.8,221.1 L880.9,220.6 L881.0,220.1 L881.1,219.1 L881.2,215.5 L881.3,214.9 L881.4,216.1 L881.5,218.1 L881.6,218.7 L881.7,217.6 L881.8,218.3 L881.9,218.8 L882.0,222.2 L882.2,223.0 L882.3,225.1 L882.4,225.7 L882.5,226.7 L882.6,228.2 L882.7,230.3 L882.8,230.2 L882.9,230.7 L883.0,230.0 L883.1,229.9 L883.2,228.6 L883.3,230.3 L883.4,230.8 L883.5,231.5 L883.6,232.0 L883.8,233.4 L883.9,234.3 L884.0,235.1 L884.1,234.9 L884.2,236.2 L884.3,237.0 L884.4,240.0 L884.5,243.5 L884.6,245.4 L884.7,245.3 L884.8,248.1 L884.9,247.8 L885.0,248.2 L885.1,248.6 L885.2,249.8 L885.4,250.7 L885.5,250.3 L885.6,250.7 L885.7,251.5 L885.8,252.8 L885.9,253.4 L886.0,253.0 L886.1,254.0 L886.2,255.5 L886.3,257.7 L886.4,258.4 L886.5,260.2 L886.6,262.4 L886.7,262.0 L886.8,263.4 L886.9,266.2 L887.1,267.3 L887.2,265.7 L887.3,266.6 L887.4,268.3 L887.5,268.2 L887.6,266.1 L887.7,264.5 L887.8,263.2 L887.9,262.5 L888.0,261.0 L888.1,258.5 L888.2,257.4 L888.3,257.0 L888.4,257.8 L888.5,256.4 L888.7,254.0 L888.8,252.7 L888.9,253.6 L889.0,252.6 L889.1,250.5 L889.2,250.6 L889.3,249.4 L889.4,249.2 L889.5,249.0 L889.6,252.5 L889.7,255.7 L889.8,256.4 L889.9,256.8 L890.0,258.5 L890.1,259.7 L890.3,261.3 L890.4,261.2 L890.5,263.4 L890.6,261.7 L890.7,261.7 L890.8,261.0 L890.9,261.0 L891.0,260.3 L891.1,258.5 L891.2,256.7 L891.3,253.2 L891.4,252.3 L891.5,250.6 L891.6,249.1 L891.7,247.7 L891.9,245.1 L892.0,244.1 L892.1,243.1 L892.2,242.3 L892.3,242.1 L892.4,243.1 L892.5,242.9 L892.6,243.9 L892.7,244.9 L892.8,245.9 L892.9,246.0 L893.0,247.6 L893.1,247.5 L893.2,249.1 L893.3,249.3 L893.5,248.3 L893.6,249.3 L893.7,250.6 L893.8,251.8 L893.9,250.4 L894.0,250.0 L894.1,248.5 L894.2,248.9 L894.3,247.8 L894.4,245.5 L894.5,244.8 L894.6,245.0 L894.7,246.1 L894.8,245.5 L894.9,244.2 L895.1,243.0 L895.2,243.8 L895.3,244.2 L895.4,244.4 L895.5,244.5 L895.6,243.7 L895.7,242.3 L895.8,239.3 L895.9,238.5 L896.0,236.4 L896.1,237.8 L896.2,235.5 L896.3,234.2 L896.4,233.4 L896.5,232.3 L896.6,231.4 L896.8,229.2 L896.9,228.4 L897.0,230.3 L897.1,231.8 L897.2,229.4 L897.3,229.1 L897.4,227.2 L897.5,227.3 L897.6,227.6 L897.7,227.4 L897.8,226.5 L897.9,227.1 L898.0,228.7 L898.1,229.0 L898.2,229.3 L898.4,231.3 L898.5,233.4 L898.6,236.1 L898.7,236.8 L898.8,237.2 L898.9,238.4 L899.0,239.4 L899.1,240.0 L899.2,240.4 L899.3,240.3 L899.4,240.1 L899.5,240.5 L899.6,240.0 L899.7,240.3 L899.8,238.8 L900.0,237.6 L900.1,237.9 L900.2,237.7 L900.3,236.1 L900.4,235.1 L900.5,235.4 L900.6,234.9 L900.7,232.0 L900.8,230.2 L900.9,230.8 L901.0,230.9 L901.1,233.6 L901.2,235.3 L901.3,235.8 L901.4,237.7 L901.6,240.5 L901.7,241.2 L901.8,240.9 L901.9,245.3 L902.0,246.3 L902.1,248.9 L902.2,250.3 L902.3,250.8 L902.4,246.7 L902.5,246.6 L902.6,245.6 L902.7,245.4 L902.8,245.4 L902.9,244.8 L903.0,243.3 L903.2,240.4 L903.3,239.3 L903.4,236.9 L903.5,237.6 L903.6,236.8 L903.7,236.6 L903.8,238.6 L903.9,235.5 L904.0,237.2 L904.1,238.4 L904.2,240.5 L904.3,242.3 L904.4,244.5 L904.5,244.3 L904.6,245.8 L904.7,247.0 L904.9,247.8 L905.0,250.2 L905.1,250.8 L905.2,251.8 L905.3,252.3 L905.4,253.7 L905.5,254.6 L905.6,255.0 L905.7,255.1 L905.8,257.1 L905.9,257.1 L906.0,259.4 L906.1,260.7 L906.2,261.6 L906.3,262.5 L906.5,266.2 L906.6,267.9 L906.7,268.6 L906.8,267.6 L906.9,267.4 L907.0,264.8 L907.1,265.9 L907.2,264.8 L907.3,263.3 L907.4,262.4 L907.5,261.3 L907.6,259.7 L907.7,261.2 L907.8,261.0 L907.9,260.4 L908.1,261.4 L908.2,264.5 L908.3,266.0 L908.4,267.0 L908.5,268.1 L908.6,267.5 L908.7,268.4 L908.8,265.8 L908.9,265.6 L909.0,267.6 L909.1,268.3 L909.2,267.0 L909.3,266.8 L909.4,268.6 L909.5,268.0 L909.7,269.2 L909.8,267.4 L909.9,268.9 L910.0,269.0 L910.1,269.2 L910.2,270.6 L910.3,271.4 L910.4,270.5 L910.5,269.6 L910.6,269.3 L910.7,268.3 L910.8,266.1 L910.9,264.9 L911.0,264.3 L911.1,263.8 L911.3,265.3 L911.4,264.6 L911.5,264.6 L911.6,263.2 L911.7,263.3 L911.8,262.1 L911.9,262.6 L912.0,260.8 L912.1,261.0 L912.2,260.2 L912.3,258.8 L912.4,258.5 L912.5,257.7 L912.6,255.8 L912.7,253.4 L912.9,255.0 L913.0,255.3 L913.1,253.7 L913.2,252.0 L913.3,252.0 L913.4,251.2 L913.5,250.8 L913.6,247.6 L913.7,247.5 L913.8,248.3 L913.9,249.3 L914.0,249.7 L914.1,247.2 L914.2,246.7 L914.3,243.8 L914.4,242.6 L914.6,241.8 L914.7,240.7 L914.8,239.6 L914.9,238.4 L915.0,239.3 L915.1,239.5 L915.2,239.5 L915.3,238.7 L915.4,238.4 L915.5,240.0 L915.6,241.2 L915.7,239.6 L915.8,238.1 L915.9,240.0 L916.0,240.4 L916.2,241.4 L916.3,243.1 L916.4,243.0 L916.5,243.8 L916.6,242.8 L916.7,243.3 L916.8,244.7 L916.9,248.4 L917.0,249.0 L917.1,248.5 L917.2,249.9 L917.3,249.4 L917.4,249.4 L917.5,251.2 L917.6,250.4 L917.8,248.9 L917.9,247.1 L918.0,246.1 L918.1,245.3 L918.2,244.8 L918.3,244.2 L918.4,243.3 L918.5,243.5 L918.6,241.7 L918.7,241.0 L918.8,239.5 L918.9,239.1 L919.0,237.7 L919.1,236.6 L919.2,234.8 L919.4,233.6 L919.5,231.9 L919.6,231.5 L919.7,231.0 L919.8,230.5 L919.9,231.1 L920.0,230.2 L920.1,228.1 L920.2,226.5 L920.3,226.7 L920.4,225.5 L920.5,223.9 L920.6,224.6 L920.7,223.3 L920.8,223.3 L921.0,223.3 L921.1,223.9 L921.2,226.7 L921.3,229.4 L921.4,227.6 L921.5,228.7 L921.6,228.0 L921.7,227.5 L921.8,228.4 L921.9,230.7 L922.0,230.0 L922.1,231.0 L922.2,231.4 L922.3,231.9 L922.4,231.9 L922.6,232.0 L922.7,234.8 L922.8,237.2 L922.9,237.7 L923.0,237.1 L923.1,235.2 L923.2,234.4 L923.3,233.7 L923.4,231.7 L923.5,231.5 L923.6,231.8 L923.7,232.3 L923.8,234.8 L923.9,236.3 L924.0,237.7 L924.1,240.2 L924.3,242.1 L924.4,242.8 L924.5,245.0 L924.6,245.1 L924.7,245.5 L924.8,246.7 L924.9,247.9 L925.0,248.1 L925.1,248.6 L925.2,249.2 L925.3,250.2 L925.4,251.4 L925.5,248.4 L925.6,248.6 L925.7,248.5 L925.9,249.8 L926.0,249.8 L926.1,249.6 L926.2,247.7 L926.3,249.8 L926.4,250.1 L926.5,249.2 L926.6,248.5 L926.7,248.1 L926.8,247.3 L926.9,247.8 L927.0,246.2 L927.1,243.8 L927.2,242.8 L927.3,243.4 L927.5,244.4 L927.6,246.4 L927.7,250.1 L927.8,253.2 L927.9,256.2 L928.0,257.5 L928.1,252.5 L928.2,249.7 L928.3,246.2 L928.4,242.5 L928.5,240.2 L928.6,238.7 L928.7,238.6 L928.8,238.1 L928.9,241.0 L929.1,240.8 L929.2,241.9 L929.3,241.2 L929.4,241.5 L929.5,240.5 L929.6,241.5 L929.7,243.2 L929.8,245.3 L929.9,247.8 L930.0,247.9 L930.1,248.2 L930.2,248.3 L930.3,247.6 L930.4,248.6 L930.5,248.2 L930.7,247.5 L930.8,246.4 L930.9,244.7 L931.0,242.5 L931.1,241.6 L931.2,243.3 L931.3,243.5 L931.4,244.7 L931.5,244.1 L931.6,243.9 L931.7,242.2 L931.8,241.0 L931.9,238.5 L932.0,236.3 L932.1,236.2 L932.2,235.5 L932.4,235.9 L932.5,235.8 L932.6,234.9 L932.7,236.8 L932.8,237.3 L932.9,236.0 L933.0,237.5 L933.1,237.8 L933.2,238.1 L933.3,239.1 L933.4,240.8 L933.5,241.7 L933.6,242.8 L933.7,241.7 L933.8,241.6 L934.0,241.1 L934.1,242.8 L934.2,242.4 L934.3,242.6 L934.4,241.8 L934.5,243.1 L934.6,242.6 L934.7,241.6 L934.8,240.4 L934.9,242.4 L935.0,244.2 L935.1,246.2 L935.2,245.4 L935.3,245.2 L935.4,245.3 L935.6,246.7 L935.7,244.9 L935.8,242.7 L935.9,242.5 L936.0,242.3 L936.1,240.7 L936.2,239.9 L936.3,238.3 L936.4,238.6 L936.5,238.0 L936.6,238.1 L936.7,238.4 L936.8,238.2 L936.9,238.1 L937.0,238.1 L937.2,239.2 L937.3,239.7 L937.4,241.2 L937.5,243.0 L937.6,241.8 L937.7,243.4 L937.8,241.9 L937.9,241.7 L938.0,245.0 L938.1,246.1 L938.2,246.9 L938.3,247.2 L938.4,247.8 L938.5,248.8 L938.6,247.6 L938.8,247.3 L938.9,245.8 L939.0,246.2 L939.1,246.4 L939.2,244.5 L939.3,244.5 L939.4,245.2 L939.5,244.8 L939.6,243.1 L939.7,242.9 L939.8,243.2 L939.9,242.8 L940.0,242.5 L940.1,243.6 L940.2,244.8 L940.4,246.0 L940.5,243.9 L940.6,245.2 L940.7,244.5 L940.8,245.9 L940.9,246.7 L941.0,250.0 L941.1,250.6 L941.2,251.4 L941.3,252.5 L941.4,253.7 L941.5,255.7 L941.6,257.8 L941.7,257.8 L941.8,258.9 L941.9,258.7 L942.1,257.9 L942.2,257.4 L942.3,257.2 L942.4,254.1 L942.5,254.6 L942.6,254.3 L942.7,253.7 L942.8,254.0 L942.9,253.9 L943.0,251.8 L943.1,249.9 L943.2,250.0 L943.3,246.9 L943.4,246.9 L943.5,246.6 L943.7,248.5 L943.8,248.2 L943.9,247.4 L944.0,248.9 L944.1,248.0 L944.2,250.0 L944.3,252.1 L944.4,252.8 L944.5,254.3 L944.6,254.0 L944.7,255.7 L944.8,255.9 L944.9,258.3 L945.0,258.4 L945.1,257.4 L945.3,258.0 L945.4,257.9 L945.5,257.1 L945.6,258.4 L945.7,258.9 L945.8,257.8 L945.9,256.6 L946.0,256.0 L946.1,256.1 L946.2,253.8 L946.3,254.3 L946.4,253.6 L946.5,252.6 L946.6,250.9 L946.7,251.0 L946.9,252.0 L947.0,250.0 L947.1,251.3 L947.2,250.8 L947.3,251.4 L947.4,252.3 L947.5,252.6 L947.6,253.2 L947.7,253.1 L947.8,256.1 L947.9,256.0 L948.0,255.9 L948.1,256.9 L948.2,257.3 L948.3,254.7 L948.5,253.1 L948.6,253.1 L948.7,253.6 L948.8,254.2 L948.9,252.3 L949.0,252.5 L949.1,253.1 L949.2,251.8 L949.3,252.3 L949.4,252.5 L949.5,250.2 L949.6,251.4 L949.7,250.6 L949.8,249.9 L949.9,249.7 L950.0,251.3 L950.2,251.4 L950.3,251.6 L950.4,249.5 L950.5,248.7 L950.6,249.9 L950.7,249.2 L950.8,248.8 L950.9,249.4 L951.0,250.0 L951.1,250.4 L951.2,251.9 L951.3,252.2 L951.4,250.8 L951.5,249.1 L951.6,247.1 L951.8,247.8 L951.9,247.4 L952.0,250.1 L952.1,250.2 L952.2,251.2 L952.3,249.9 L952.4,251.3 L952.5,251.9 L952.6,252.4 L952.7,251.2 L952.8,249.8 L952.9,250.3 L953.0,247.9 L953.1,247.6 L953.2,248.4 L953.4,247.7 L953.5,247.8 L953.6,247.0 L953.7,246.8 L953.8,244.7 L953.9,244.0 L954.0,245.4 L954.1,245.0 L954.2,244.8 L954.3,246.4 L954.4,247.6 L954.5,248.6 L954.6,251.2 L954.7,250.4 L954.8,250.9 L955.0,250.0 L955.1,251.1 L955.2,251.6 L955.3,251.3 L955.4,251.0 L955.5,251.4 L955.6,253.4 L955.7,251.7" stroke="#0070c0" stroke-width="4.4" fill="none" stroke-linejoin="round" stroke-linecap="round"/>
  <path d="M121.8,192.7 L123.1,192.7 L123.1,181.9 L127.4,181.9 L127.4,171.2 L132.3,171.2 L132.3,149.8 L152.5,149.8 L152.5,171.2 L154.9,171.2 L154.9,192.7 L159.3,192.7 L159.3,214.1 L161.8,214.1 L161.8,235.6 L164.2,235.6 L164.2,257.0 L167.9,257.0 L167.9,267.7 L172.7,267.7 L172.7,278.5 L175.0,278.5 L175.0,299.9 L176.3,299.9 L176.3,321.4 L179.4,321.4 L179.4,342.8 L182.5,342.8 L182.5,353.5 L211.3,353.5 L211.3,375.0 L231.7,375.0 L231.7,385.7 L264.1,385.7 L264.1,375.0 L267.6,375.0 L267.6,364.2 L271.3,364.2 L271.3,353.5 L275.6,353.5 L275.6,342.8 L278.7,342.8 L278.7,332.1 L282.9,332.1 L282.9,321.4 L287.4,321.4 L287.4,310.6 L291.0,310.6 L291.0,299.9 L296.0,299.9 L296.0,289.2 L299.5,289.2 L299.5,278.5 L303.2,278.5 L303.2,267.7 L306.8,267.7 L306.8,257.0 L310.5,257.0 L310.5,246.3 L314.8,246.3 L314.8,235.6 L319.9,235.6 L319.9,224.8 L323.6,224.8 L323.6,214.1 L327.9,214.1 L327.9,203.4 L366.9,203.4 L366.9,224.8 L370.7,224.8 L370.7,235.6 L374.3,235.6 L374.3,246.3 L378.0,246.3 L378.0,278.5 L378.7,278.5 L378.7,299.9 L382.9,299.9 L382.9,332.1 L386.6,332.1 L386.6,342.8 L400.7,342.8 L400.7,364.2 L402.5,364.2 L402.5,385.7 L406.7,385.7 L406.7,417.9 L630.6,417.9 L630.6,407.2 L662.4,407.2 L662.4,396.4 L670.5,396.4 L670.5,385.7 L678.4,385.7 L678.4,375.0 L694.3,375.0 L694.3,364.2 L703.0,364.2 L703.0,353.5 L710.3,353.5 L710.3,342.8 L719.4,342.8 L719.4,332.1 L726.8,332.1 L726.8,321.4 L746.5,321.4 L746.5,332.1 L750.7,332.1 L750.7,342.8 L754.4,342.8 L754.4,353.5 L765.3,353.5 L765.3,375.0 L766.4,375.0 L766.4,417.9 L830.4,417.9 L830.4,407.2 L834.7,407.2 L834.7,385.7 L838.3,385.7 L838.3,353.5 L842.0,353.5 L842.0,321.4 L846.9,321.4 L846.9,289.2 L850.5,289.2 L850.5,257.0 L854.2,257.0 L854.2,235.6 L858.4,235.6 L858.4,224.8 L862.9,224.8 L862.9,214.1 L866.6,214.1 L866.6,203.4 L873.9,203.4 L873.9,192.7 L910.5,192.7 L910.5,214.1 L914.9,214.1 L914.9,224.8 L918.5,224.8 L918.5,235.6 L942.4,235.6 L942.4,246.3 L946.1,246.3 L946.1,257.0 L949.8,257.0 L949.8,267.7" stroke="#c00000" stroke-width="3.9" fill="none" stroke-linejoin="round" stroke-linecap="round"/>
  <rect x="151.8" y="106" width="81.3" height="322.6" fill="#0070c0" fill-opacity="0.2"/>
  <rect x="371.1" y="105.5" width="39" height="323.1" fill="#0070c0" fill-opacity="0.2"/>
  <rect x="744.2" y="108.5" width="28.6" height="320.1" fill="#0070c0" fill-opacity="0.2"/>
  <rect x="908.9" y="104.4" width="47.1" height="324.2" fill="#c00000" fill-opacity="0.2"/>
  <g class="lg">
    <path d="M230,95.6H278.5" stroke="#0070c0" stroke-width="3.8" stroke-linecap="round"/>
    <text x="283.2" y="102.5" textLength="203.6" lengthAdjust="spacingAndGlyphs">美国:国债收益率:10年</text>
    <path d="M527,95.6H576.5" stroke="#c00000" stroke-width="3.8" stroke-linecap="round"/>
    <text x="581.6" y="102.5" style="font-size:20.7px" textLength="211.6" lengthAdjust="spacingAndGlyphs">美国:联邦基金目标利率</text>
  </g>
  <g class="xl">
<text transform="translate(128.3,530.2) rotate(-90) scale(1,1.07)">2000−01</text>
<text transform="translate(168.3,530.2) rotate(-90) scale(1,1.07)">2001−04</text>
<text transform="translate(208.2,530.2) rotate(-90) scale(1,1.07)">2002−07</text>
<text transform="translate(248.2,530.2) rotate(-90) scale(1,1.07)">2003−10</text>
<text transform="translate(288.2,530.2) rotate(-90) scale(1,1.07)">2005−01</text>
<text transform="translate(328.1,530.2) rotate(-90) scale(1,1.07)">2006−04</text>
<text transform="translate(368.1,530.2) rotate(-90) scale(1,1.07)">2007−07</text>
<text transform="translate(408.1,530.2) rotate(-90) scale(1,1.07)">2008−10</text>
<text transform="translate(448.1,530.2) rotate(-90) scale(1,1.07)">2010−01</text>
<text transform="translate(488.0,530.2) rotate(-90) scale(1,1.07)">2011−04</text>
<text transform="translate(528.0,530.2) rotate(-90) scale(1,1.07)">2012−07</text>
<text transform="translate(568.0,530.2) rotate(-90) scale(1,1.07)">2013−10</text>
<text transform="translate(607.9,530.2) rotate(-90) scale(1,1.07)">2015−01</text>
<text transform="translate(647.9,530.2) rotate(-90) scale(1,1.07)">2016−04</text>
<text transform="translate(687.9,530.2) rotate(-90) scale(1,1.07)">2017−07</text>
<text transform="translate(727.8,530.2) rotate(-90) scale(1,1.07)">2018−10</text>
<text transform="translate(767.8,530.2) rotate(-90) scale(1,1.07)">2020−01</text>
<text transform="translate(807.8,530.2) rotate(-90) scale(1,1.07)">2021−04</text>
<text transform="translate(847.8,530.2) rotate(-90) scale(1,1.07)">2022−07</text>
<text transform="translate(887.7,530.2) rotate(-90) scale(1,1.07)">2023−10</text>
<text transform="translate(927.7,530.2) rotate(-90) scale(1,1.07)">2025−01</text>
  </g>
</svg>
<div class="rule r2"></div>
<div class="src">数据来源：<span class="l">Wind</span>，财通证券研究所；单位：<span class="l">%</span>。</div>
</body>
</html>
